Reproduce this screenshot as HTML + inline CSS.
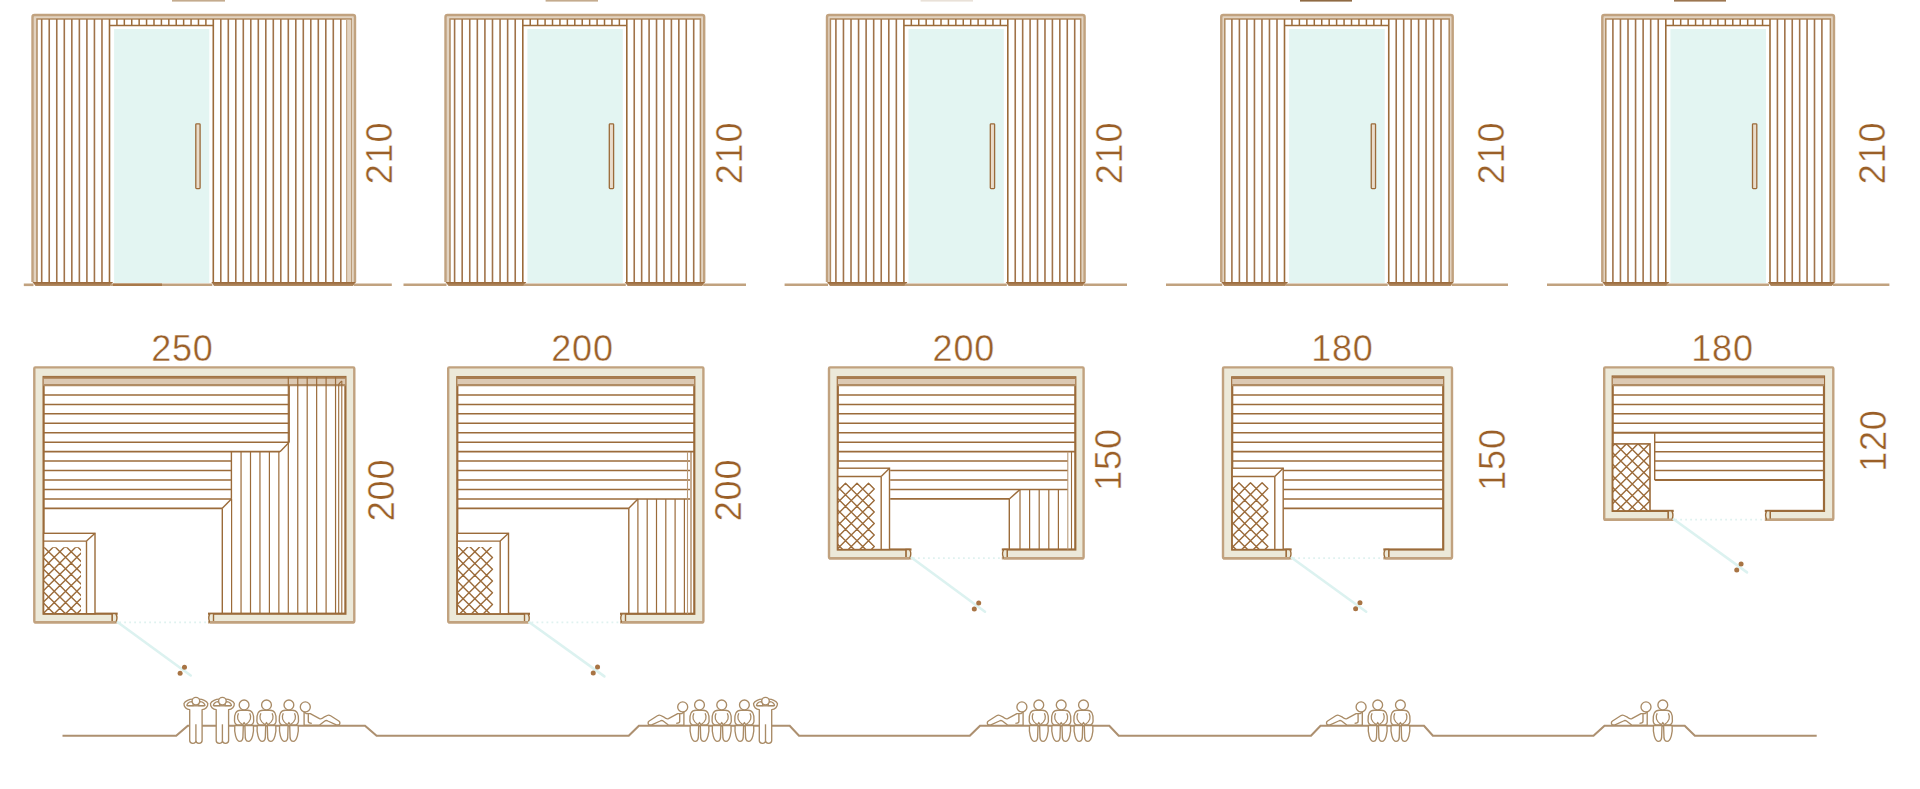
<!DOCTYPE html>
<html><head><meta charset="utf-8"><style>
html,body{margin:0;padding:0;background:#fff;width:1920px;height:789px;overflow:hidden}
svg{display:block}
.t{font-family:"Liberation Sans",sans-serif;font-size:36px;fill:#9a5f28;letter-spacing:0.8px;stroke:#fff;stroke-width:0.4px}
</style></head><body>
<svg width="1920" height="789" viewBox="0 0 1920 789">
<defs><linearGradient id="slab" x1="0" y1="0" x2="0" y2="1"><stop offset="0" stop-color="#9a6a3a"/><stop offset="0.35" stop-color="#a27448"/><stop offset="1" stop-color="#b48e66"/></linearGradient></defs>
<rect x="32.5" y="15.05" width="322.5" height="266.95" fill="#e2d3c1" stroke="none" stroke-width="0" />
<rect x="37" y="19.1" width="314.2" height="262.9" fill="#ffffff" stroke="none" stroke-width="0" />
<path d="M32.5,282 V17.05 Q32.5,15.05 34.5,15.05 H353 Q355,15.05 355,17.05 V282" stroke="#c1a27f" stroke-width="2.4" fill="none" />
<path d="M37,282 V19.1 H351.2 V282" stroke="#b08a60" stroke-width="1.5" fill="none" />
<line x1="41.7" y1="19.1" x2="41.7" y2="282" stroke="#a0734a" stroke-width="1.6" />
<line x1="49.23" y1="19.1" x2="49.23" y2="282" stroke="#a0734a" stroke-width="1.6" />
<line x1="56.77" y1="19.1" x2="56.77" y2="282" stroke="#a0734a" stroke-width="1.6" />
<line x1="64.3" y1="19.1" x2="64.3" y2="282" stroke="#a0734a" stroke-width="1.6" />
<line x1="71.83" y1="19.1" x2="71.83" y2="282" stroke="#a0734a" stroke-width="1.6" />
<line x1="79.37" y1="19.1" x2="79.37" y2="282" stroke="#a0734a" stroke-width="1.6" />
<line x1="86.9" y1="19.1" x2="86.9" y2="282" stroke="#a0734a" stroke-width="1.6" />
<line x1="94.43" y1="19.1" x2="94.43" y2="282" stroke="#a0734a" stroke-width="1.6" />
<line x1="101.97" y1="19.1" x2="101.97" y2="282" stroke="#a0734a" stroke-width="1.6" />
<line x1="220.8" y1="19.1" x2="220.8" y2="282" stroke="#a0734a" stroke-width="1.6" />
<line x1="228.3" y1="19.1" x2="228.3" y2="282" stroke="#a0734a" stroke-width="1.6" />
<line x1="235.8" y1="19.1" x2="235.8" y2="282" stroke="#a0734a" stroke-width="1.6" />
<line x1="243.3" y1="19.1" x2="243.3" y2="282" stroke="#a0734a" stroke-width="1.6" />
<line x1="250.8" y1="19.1" x2="250.8" y2="282" stroke="#a0734a" stroke-width="1.6" />
<line x1="258.3" y1="19.1" x2="258.3" y2="282" stroke="#a0734a" stroke-width="1.6" />
<line x1="265.8" y1="19.1" x2="265.8" y2="282" stroke="#a0734a" stroke-width="1.6" />
<line x1="273.3" y1="19.1" x2="273.3" y2="282" stroke="#a0734a" stroke-width="1.6" />
<line x1="280.8" y1="19.1" x2="280.8" y2="282" stroke="#a0734a" stroke-width="1.6" />
<line x1="288.3" y1="19.1" x2="288.3" y2="282" stroke="#a0734a" stroke-width="1.6" />
<line x1="295.8" y1="19.1" x2="295.8" y2="282" stroke="#a0734a" stroke-width="1.6" />
<line x1="303.3" y1="19.1" x2="303.3" y2="282" stroke="#a0734a" stroke-width="1.6" />
<line x1="310.8" y1="19.1" x2="310.8" y2="282" stroke="#a0734a" stroke-width="1.6" />
<line x1="318.3" y1="19.1" x2="318.3" y2="282" stroke="#a0734a" stroke-width="1.6" />
<line x1="325.8" y1="19.1" x2="325.8" y2="282" stroke="#a0734a" stroke-width="1.6" />
<line x1="333.3" y1="19.1" x2="333.3" y2="282" stroke="#a0734a" stroke-width="1.6" />
<line x1="340.8" y1="19.1" x2="340.8" y2="282" stroke="#a0734a" stroke-width="1.6" />
<rect x="109.5" y="25.5" width="103.8" height="257.5" fill="#ffffff" stroke="none" stroke-width="0" />
<line x1="116.91" y1="19.1" x2="116.91" y2="25.5" stroke="#9b6b3a" stroke-width="1.5" />
<line x1="124.33" y1="19.1" x2="124.33" y2="25.5" stroke="#9b6b3a" stroke-width="1.5" />
<line x1="131.74" y1="19.1" x2="131.74" y2="25.5" stroke="#9b6b3a" stroke-width="1.5" />
<line x1="139.16" y1="19.1" x2="139.16" y2="25.5" stroke="#9b6b3a" stroke-width="1.5" />
<line x1="146.57" y1="19.1" x2="146.57" y2="25.5" stroke="#9b6b3a" stroke-width="1.5" />
<line x1="153.99" y1="19.1" x2="153.99" y2="25.5" stroke="#9b6b3a" stroke-width="1.5" />
<line x1="161.4" y1="19.1" x2="161.4" y2="25.5" stroke="#9b6b3a" stroke-width="1.5" />
<line x1="168.81" y1="19.1" x2="168.81" y2="25.5" stroke="#9b6b3a" stroke-width="1.5" />
<line x1="176.23" y1="19.1" x2="176.23" y2="25.5" stroke="#9b6b3a" stroke-width="1.5" />
<line x1="183.64" y1="19.1" x2="183.64" y2="25.5" stroke="#9b6b3a" stroke-width="1.5" />
<line x1="191.06" y1="19.1" x2="191.06" y2="25.5" stroke="#9b6b3a" stroke-width="1.5" />
<line x1="198.47" y1="19.1" x2="198.47" y2="25.5" stroke="#9b6b3a" stroke-width="1.5" />
<line x1="205.89" y1="19.1" x2="205.89" y2="25.5" stroke="#9b6b3a" stroke-width="1.5" />
<line x1="109.5" y1="19.1" x2="109.5" y2="283" stroke="#9b6b3a" stroke-width="1.6" />
<line x1="213.3" y1="19.1" x2="213.3" y2="283" stroke="#9b6b3a" stroke-width="1.6" />
<line x1="109.5" y1="25.5" x2="213.3" y2="25.5" stroke="#9b6b3a" stroke-width="1.6" />
<rect x="114.1" y="29" width="95.2" height="254" fill="#e3f5f2" stroke="none" stroke-width="0" />
<rect x="195.8" y="123.8" width="4.3" height="64.8" fill="#e9dccb" stroke="#9b6b3a" stroke-width="1.3" rx="0.8"/>
<polygon points="32.5,282 113,282 110.3,286 35.5,286" fill="url(#slab)"/>
<polygon points="211.3,282 356,282 353,286 214.1,286" fill="url(#slab)"/>
<line x1="23.8" y1="284.8" x2="33.5" y2="284.8" stroke="#c1a27f" stroke-width="2.6" />
<line x1="110.5" y1="284.8" x2="212.3" y2="284.8" stroke="#c1a27f" stroke-width="2.6" />
<line x1="354" y1="284.8" x2="391.8" y2="284.8" stroke="#c1a27f" stroke-width="2.6" />
<rect x="172" y="-2" width="53" height="3.6" fill="#c4ab8e" stroke="none" stroke-width="0" />
<text transform="translate(392.3,153) rotate(-90)" class="t" text-anchor="middle">210</text>
<rect x="346.2" y="19.9" width="5" height="262.1" fill="#e2d3c1" stroke="none" stroke-width="0" />
<line x1="346.6" y1="19.1" x2="346.6" y2="282" stroke="#c6a988" stroke-width="1.2" />
<rect x="445.5" y="15.05" width="258.7" height="266.95" fill="#e2d3c1" stroke="none" stroke-width="0" />
<rect x="450" y="19.1" width="250.4" height="262.9" fill="#ffffff" stroke="none" stroke-width="0" />
<path d="M445.5,282 V17.05 Q445.5,15.05 447.5,15.05 H702.2 Q704.2,15.05 704.2,17.05 V282" stroke="#c1a27f" stroke-width="2.4" fill="none" />
<path d="M450,282 V19.1 H700.4 V282" stroke="#b08a60" stroke-width="1.5" fill="none" />
<line x1="454.6" y1="19.1" x2="454.6" y2="282" stroke="#a0734a" stroke-width="1.6" />
<line x1="462.18" y1="19.1" x2="462.18" y2="282" stroke="#a0734a" stroke-width="1.6" />
<line x1="469.76" y1="19.1" x2="469.76" y2="282" stroke="#a0734a" stroke-width="1.6" />
<line x1="477.33" y1="19.1" x2="477.33" y2="282" stroke="#a0734a" stroke-width="1.6" />
<line x1="484.91" y1="19.1" x2="484.91" y2="282" stroke="#a0734a" stroke-width="1.6" />
<line x1="492.49" y1="19.1" x2="492.49" y2="282" stroke="#a0734a" stroke-width="1.6" />
<line x1="500.07" y1="19.1" x2="500.07" y2="282" stroke="#a0734a" stroke-width="1.6" />
<line x1="507.64" y1="19.1" x2="507.64" y2="282" stroke="#a0734a" stroke-width="1.6" />
<line x1="515.22" y1="19.1" x2="515.22" y2="282" stroke="#a0734a" stroke-width="1.6" />
<line x1="634.23" y1="19.1" x2="634.23" y2="282" stroke="#a0734a" stroke-width="1.6" />
<line x1="641.67" y1="19.1" x2="641.67" y2="282" stroke="#a0734a" stroke-width="1.6" />
<line x1="649.1" y1="19.1" x2="649.1" y2="282" stroke="#a0734a" stroke-width="1.6" />
<line x1="656.53" y1="19.1" x2="656.53" y2="282" stroke="#a0734a" stroke-width="1.6" />
<line x1="663.97" y1="19.1" x2="663.97" y2="282" stroke="#a0734a" stroke-width="1.6" />
<line x1="671.4" y1="19.1" x2="671.4" y2="282" stroke="#a0734a" stroke-width="1.6" />
<line x1="678.83" y1="19.1" x2="678.83" y2="282" stroke="#a0734a" stroke-width="1.6" />
<line x1="686.27" y1="19.1" x2="686.27" y2="282" stroke="#a0734a" stroke-width="1.6" />
<line x1="693.7" y1="19.1" x2="693.7" y2="282" stroke="#a0734a" stroke-width="1.6" />
<rect x="522.8" y="25.5" width="104" height="257.5" fill="#ffffff" stroke="none" stroke-width="0" />
<line x1="530.23" y1="19.1" x2="530.23" y2="25.5" stroke="#9b6b3a" stroke-width="1.5" />
<line x1="537.66" y1="19.1" x2="537.66" y2="25.5" stroke="#9b6b3a" stroke-width="1.5" />
<line x1="545.09" y1="19.1" x2="545.09" y2="25.5" stroke="#9b6b3a" stroke-width="1.5" />
<line x1="552.51" y1="19.1" x2="552.51" y2="25.5" stroke="#9b6b3a" stroke-width="1.5" />
<line x1="559.94" y1="19.1" x2="559.94" y2="25.5" stroke="#9b6b3a" stroke-width="1.5" />
<line x1="567.37" y1="19.1" x2="567.37" y2="25.5" stroke="#9b6b3a" stroke-width="1.5" />
<line x1="574.8" y1="19.1" x2="574.8" y2="25.5" stroke="#9b6b3a" stroke-width="1.5" />
<line x1="582.23" y1="19.1" x2="582.23" y2="25.5" stroke="#9b6b3a" stroke-width="1.5" />
<line x1="589.66" y1="19.1" x2="589.66" y2="25.5" stroke="#9b6b3a" stroke-width="1.5" />
<line x1="597.09" y1="19.1" x2="597.09" y2="25.5" stroke="#9b6b3a" stroke-width="1.5" />
<line x1="604.51" y1="19.1" x2="604.51" y2="25.5" stroke="#9b6b3a" stroke-width="1.5" />
<line x1="611.94" y1="19.1" x2="611.94" y2="25.5" stroke="#9b6b3a" stroke-width="1.5" />
<line x1="619.37" y1="19.1" x2="619.37" y2="25.5" stroke="#9b6b3a" stroke-width="1.5" />
<line x1="522.8" y1="19.1" x2="522.8" y2="283" stroke="#9b6b3a" stroke-width="1.6" />
<line x1="626.8" y1="19.1" x2="626.8" y2="283" stroke="#9b6b3a" stroke-width="1.6" />
<line x1="522.8" y1="25.5" x2="626.8" y2="25.5" stroke="#9b6b3a" stroke-width="1.6" />
<rect x="527.4" y="29" width="95.4" height="254" fill="#e3f5f2" stroke="none" stroke-width="0" />
<rect x="609.3" y="123.8" width="4.3" height="64.8" fill="#e9dccb" stroke="#9b6b3a" stroke-width="1.3" rx="0.8"/>
<polygon points="445.5,282 526.3,282 523.6,286 448.5,286" fill="url(#slab)"/>
<polygon points="624.8,282 705.2,282 702.2,286 627.6,286" fill="url(#slab)"/>
<line x1="403.5" y1="284.8" x2="446.5" y2="284.8" stroke="#c1a27f" stroke-width="2.6" />
<line x1="523.8" y1="284.8" x2="625.8" y2="284.8" stroke="#c1a27f" stroke-width="2.6" />
<line x1="703.2" y1="284.8" x2="746" y2="284.8" stroke="#c1a27f" stroke-width="2.6" />
<rect x="545.6" y="-2" width="52.4" height="3.6" fill="#c4ab8e" stroke="none" stroke-width="0" />
<text transform="translate(741.8,153) rotate(-90)" class="t" text-anchor="middle">210</text>
<rect x="827" y="15.05" width="257.6" height="266.95" fill="#e2d3c1" stroke="none" stroke-width="0" />
<rect x="830.4" y="19.1" width="250.3" height="262.9" fill="#ffffff" stroke="none" stroke-width="0" />
<path d="M827,282 V17.05 Q827,15.05 829,15.05 H1082.6 Q1084.6,15.05 1084.6,17.05 V282" stroke="#c1a27f" stroke-width="2.4" fill="none" />
<path d="M830.4,282 V19.1 H1080.7 V282" stroke="#b08a60" stroke-width="1.5" fill="none" />
<line x1="835.9" y1="19.1" x2="835.9" y2="282" stroke="#a0734a" stroke-width="1.6" />
<line x1="843.46" y1="19.1" x2="843.46" y2="282" stroke="#a0734a" stroke-width="1.6" />
<line x1="851.01" y1="19.1" x2="851.01" y2="282" stroke="#a0734a" stroke-width="1.6" />
<line x1="858.57" y1="19.1" x2="858.57" y2="282" stroke="#a0734a" stroke-width="1.6" />
<line x1="866.12" y1="19.1" x2="866.12" y2="282" stroke="#a0734a" stroke-width="1.6" />
<line x1="873.68" y1="19.1" x2="873.68" y2="282" stroke="#a0734a" stroke-width="1.6" />
<line x1="881.23" y1="19.1" x2="881.23" y2="282" stroke="#a0734a" stroke-width="1.6" />
<line x1="888.79" y1="19.1" x2="888.79" y2="282" stroke="#a0734a" stroke-width="1.6" />
<line x1="896.34" y1="19.1" x2="896.34" y2="282" stroke="#a0734a" stroke-width="1.6" />
<line x1="1015.23" y1="19.1" x2="1015.23" y2="282" stroke="#a0734a" stroke-width="1.6" />
<line x1="1022.67" y1="19.1" x2="1022.67" y2="282" stroke="#a0734a" stroke-width="1.6" />
<line x1="1030.1" y1="19.1" x2="1030.1" y2="282" stroke="#a0734a" stroke-width="1.6" />
<line x1="1037.53" y1="19.1" x2="1037.53" y2="282" stroke="#a0734a" stroke-width="1.6" />
<line x1="1044.97" y1="19.1" x2="1044.97" y2="282" stroke="#a0734a" stroke-width="1.6" />
<line x1="1052.4" y1="19.1" x2="1052.4" y2="282" stroke="#a0734a" stroke-width="1.6" />
<line x1="1059.83" y1="19.1" x2="1059.83" y2="282" stroke="#a0734a" stroke-width="1.6" />
<line x1="1067.27" y1="19.1" x2="1067.27" y2="282" stroke="#a0734a" stroke-width="1.6" />
<line x1="1074.7" y1="19.1" x2="1074.7" y2="282" stroke="#a0734a" stroke-width="1.6" />
<rect x="903.9" y="25.5" width="103.9" height="257.5" fill="#ffffff" stroke="none" stroke-width="0" />
<line x1="911.32" y1="19.1" x2="911.32" y2="25.5" stroke="#9b6b3a" stroke-width="1.5" />
<line x1="918.74" y1="19.1" x2="918.74" y2="25.5" stroke="#9b6b3a" stroke-width="1.5" />
<line x1="926.16" y1="19.1" x2="926.16" y2="25.5" stroke="#9b6b3a" stroke-width="1.5" />
<line x1="933.59" y1="19.1" x2="933.59" y2="25.5" stroke="#9b6b3a" stroke-width="1.5" />
<line x1="941.01" y1="19.1" x2="941.01" y2="25.5" stroke="#9b6b3a" stroke-width="1.5" />
<line x1="948.43" y1="19.1" x2="948.43" y2="25.5" stroke="#9b6b3a" stroke-width="1.5" />
<line x1="955.85" y1="19.1" x2="955.85" y2="25.5" stroke="#9b6b3a" stroke-width="1.5" />
<line x1="963.27" y1="19.1" x2="963.27" y2="25.5" stroke="#9b6b3a" stroke-width="1.5" />
<line x1="970.69" y1="19.1" x2="970.69" y2="25.5" stroke="#9b6b3a" stroke-width="1.5" />
<line x1="978.11" y1="19.1" x2="978.11" y2="25.5" stroke="#9b6b3a" stroke-width="1.5" />
<line x1="985.54" y1="19.1" x2="985.54" y2="25.5" stroke="#9b6b3a" stroke-width="1.5" />
<line x1="992.96" y1="19.1" x2="992.96" y2="25.5" stroke="#9b6b3a" stroke-width="1.5" />
<line x1="1000.38" y1="19.1" x2="1000.38" y2="25.5" stroke="#9b6b3a" stroke-width="1.5" />
<line x1="903.9" y1="19.1" x2="903.9" y2="283" stroke="#9b6b3a" stroke-width="1.6" />
<line x1="1007.8" y1="19.1" x2="1007.8" y2="283" stroke="#9b6b3a" stroke-width="1.6" />
<line x1="903.9" y1="25.5" x2="1007.8" y2="25.5" stroke="#9b6b3a" stroke-width="1.6" />
<rect x="908.5" y="29" width="95.3" height="254" fill="#e3f5f2" stroke="none" stroke-width="0" />
<rect x="990.3" y="123.8" width="4.3" height="64.8" fill="#e9dccb" stroke="#9b6b3a" stroke-width="1.3" rx="0.8"/>
<polygon points="827,282 907.4,282 904.7,286 830,286" fill="url(#slab)"/>
<polygon points="1005.8,282 1085.6,282 1082.6,286 1008.6,286" fill="url(#slab)"/>
<line x1="784.6" y1="284.8" x2="828" y2="284.8" stroke="#c1a27f" stroke-width="2.6" />
<line x1="904.9" y1="284.8" x2="1006.8" y2="284.8" stroke="#c1a27f" stroke-width="2.6" />
<line x1="1083.6" y1="284.8" x2="1127" y2="284.8" stroke="#c1a27f" stroke-width="2.6" />
<rect x="920.6" y="-2" width="52.4" height="3.6" fill="#e9e1d8" stroke="none" stroke-width="0" />
<text transform="translate(1122.4,153) rotate(-90)" class="t" text-anchor="middle">210</text>
<rect x="1221.25" y="15.05" width="231.45" height="266.95" fill="#e2d3c1" stroke="none" stroke-width="0" />
<rect x="1224.8" y="19.1" width="224.4" height="262.9" fill="#ffffff" stroke="none" stroke-width="0" />
<path d="M1221.25,282 V17.05 Q1221.25,15.05 1223.25,15.05 H1450.7 Q1452.7,15.05 1452.7,17.05 V282" stroke="#c1a27f" stroke-width="2.4" fill="none" />
<path d="M1224.8,282 V19.1 H1449.2 V282" stroke="#b08a60" stroke-width="1.5" fill="none" />
<line x1="1231.9" y1="19.1" x2="1231.9" y2="282" stroke="#a0734a" stroke-width="1.6" />
<line x1="1239.41" y1="19.1" x2="1239.41" y2="282" stroke="#a0734a" stroke-width="1.6" />
<line x1="1246.93" y1="19.1" x2="1246.93" y2="282" stroke="#a0734a" stroke-width="1.6" />
<line x1="1254.44" y1="19.1" x2="1254.44" y2="282" stroke="#a0734a" stroke-width="1.6" />
<line x1="1261.96" y1="19.1" x2="1261.96" y2="282" stroke="#a0734a" stroke-width="1.6" />
<line x1="1269.47" y1="19.1" x2="1269.47" y2="282" stroke="#a0734a" stroke-width="1.6" />
<line x1="1276.99" y1="19.1" x2="1276.99" y2="282" stroke="#a0734a" stroke-width="1.6" />
<line x1="1396.21" y1="19.1" x2="1396.21" y2="282" stroke="#a0734a" stroke-width="1.6" />
<line x1="1403.68" y1="19.1" x2="1403.68" y2="282" stroke="#a0734a" stroke-width="1.6" />
<line x1="1411.14" y1="19.1" x2="1411.14" y2="282" stroke="#a0734a" stroke-width="1.6" />
<line x1="1418.61" y1="19.1" x2="1418.61" y2="282" stroke="#a0734a" stroke-width="1.6" />
<line x1="1426.07" y1="19.1" x2="1426.07" y2="282" stroke="#a0734a" stroke-width="1.6" />
<line x1="1433.54" y1="19.1" x2="1433.54" y2="282" stroke="#a0734a" stroke-width="1.6" />
<line x1="1441" y1="19.1" x2="1441" y2="282" stroke="#a0734a" stroke-width="1.6" />
<rect x="1284.5" y="25.5" width="104.25" height="257.5" fill="#ffffff" stroke="none" stroke-width="0" />
<line x1="1291.95" y1="19.1" x2="1291.95" y2="25.5" stroke="#9b6b3a" stroke-width="1.5" />
<line x1="1299.39" y1="19.1" x2="1299.39" y2="25.5" stroke="#9b6b3a" stroke-width="1.5" />
<line x1="1306.84" y1="19.1" x2="1306.84" y2="25.5" stroke="#9b6b3a" stroke-width="1.5" />
<line x1="1314.29" y1="19.1" x2="1314.29" y2="25.5" stroke="#9b6b3a" stroke-width="1.5" />
<line x1="1321.73" y1="19.1" x2="1321.73" y2="25.5" stroke="#9b6b3a" stroke-width="1.5" />
<line x1="1329.18" y1="19.1" x2="1329.18" y2="25.5" stroke="#9b6b3a" stroke-width="1.5" />
<line x1="1336.62" y1="19.1" x2="1336.62" y2="25.5" stroke="#9b6b3a" stroke-width="1.5" />
<line x1="1344.07" y1="19.1" x2="1344.07" y2="25.5" stroke="#9b6b3a" stroke-width="1.5" />
<line x1="1351.52" y1="19.1" x2="1351.52" y2="25.5" stroke="#9b6b3a" stroke-width="1.5" />
<line x1="1358.96" y1="19.1" x2="1358.96" y2="25.5" stroke="#9b6b3a" stroke-width="1.5" />
<line x1="1366.41" y1="19.1" x2="1366.41" y2="25.5" stroke="#9b6b3a" stroke-width="1.5" />
<line x1="1373.86" y1="19.1" x2="1373.86" y2="25.5" stroke="#9b6b3a" stroke-width="1.5" />
<line x1="1381.3" y1="19.1" x2="1381.3" y2="25.5" stroke="#9b6b3a" stroke-width="1.5" />
<line x1="1284.5" y1="19.1" x2="1284.5" y2="283" stroke="#9b6b3a" stroke-width="1.6" />
<line x1="1388.75" y1="19.1" x2="1388.75" y2="283" stroke="#9b6b3a" stroke-width="1.6" />
<line x1="1284.5" y1="25.5" x2="1388.75" y2="25.5" stroke="#9b6b3a" stroke-width="1.6" />
<rect x="1289.1" y="29" width="95.65" height="254" fill="#e3f5f2" stroke="none" stroke-width="0" />
<rect x="1371.25" y="123.8" width="4.3" height="64.8" fill="#e9dccb" stroke="#9b6b3a" stroke-width="1.3" rx="0.8"/>
<polygon points="1221.25,282 1288,282 1285.3,286 1224.25,286" fill="url(#slab)"/>
<polygon points="1386.75,282 1453.7,282 1450.7,286 1389.55,286" fill="url(#slab)"/>
<line x1="1166" y1="284.8" x2="1222.25" y2="284.8" stroke="#c1a27f" stroke-width="2.6" />
<line x1="1285.5" y1="284.8" x2="1387.75" y2="284.8" stroke="#c1a27f" stroke-width="2.6" />
<line x1="1451.7" y1="284.8" x2="1508" y2="284.8" stroke="#c1a27f" stroke-width="2.6" />
<rect x="1300" y="-2" width="52" height="3.6" fill="#8f6a43" stroke="none" stroke-width="0" />
<text transform="translate(1503.5,153) rotate(-90)" class="t" text-anchor="middle">210</text>
<rect x="1602.3" y="15.05" width="231.7" height="266.95" fill="#e2d3c1" stroke="none" stroke-width="0" />
<rect x="1605.8" y="19.1" width="224.6" height="262.9" fill="#ffffff" stroke="none" stroke-width="0" />
<path d="M1602.3,282 V17.05 Q1602.3,15.05 1604.3,15.05 H1832 Q1834,15.05 1834,17.05 V282" stroke="#c1a27f" stroke-width="2.4" fill="none" />
<path d="M1605.8,282 V19.1 H1830.4 V282" stroke="#b08a60" stroke-width="1.5" fill="none" />
<line x1="1612.9" y1="19.1" x2="1612.9" y2="282" stroke="#a0734a" stroke-width="1.6" />
<line x1="1620.46" y1="19.1" x2="1620.46" y2="282" stroke="#a0734a" stroke-width="1.6" />
<line x1="1628.01" y1="19.1" x2="1628.01" y2="282" stroke="#a0734a" stroke-width="1.6" />
<line x1="1635.57" y1="19.1" x2="1635.57" y2="282" stroke="#a0734a" stroke-width="1.6" />
<line x1="1643.13" y1="19.1" x2="1643.13" y2="282" stroke="#a0734a" stroke-width="1.6" />
<line x1="1650.69" y1="19.1" x2="1650.69" y2="282" stroke="#a0734a" stroke-width="1.6" />
<line x1="1658.24" y1="19.1" x2="1658.24" y2="282" stroke="#a0734a" stroke-width="1.6" />
<line x1="1777.41" y1="19.1" x2="1777.41" y2="282" stroke="#a0734a" stroke-width="1.6" />
<line x1="1784.83" y1="19.1" x2="1784.83" y2="282" stroke="#a0734a" stroke-width="1.6" />
<line x1="1792.24" y1="19.1" x2="1792.24" y2="282" stroke="#a0734a" stroke-width="1.6" />
<line x1="1799.66" y1="19.1" x2="1799.66" y2="282" stroke="#a0734a" stroke-width="1.6" />
<line x1="1807.07" y1="19.1" x2="1807.07" y2="282" stroke="#a0734a" stroke-width="1.6" />
<line x1="1814.49" y1="19.1" x2="1814.49" y2="282" stroke="#a0734a" stroke-width="1.6" />
<line x1="1821.9" y1="19.1" x2="1821.9" y2="282" stroke="#a0734a" stroke-width="1.6" />
<rect x="1665.8" y="25.5" width="104.2" height="257.5" fill="#ffffff" stroke="none" stroke-width="0" />
<line x1="1673.24" y1="19.1" x2="1673.24" y2="25.5" stroke="#9b6b3a" stroke-width="1.5" />
<line x1="1680.69" y1="19.1" x2="1680.69" y2="25.5" stroke="#9b6b3a" stroke-width="1.5" />
<line x1="1688.13" y1="19.1" x2="1688.13" y2="25.5" stroke="#9b6b3a" stroke-width="1.5" />
<line x1="1695.57" y1="19.1" x2="1695.57" y2="25.5" stroke="#9b6b3a" stroke-width="1.5" />
<line x1="1703.01" y1="19.1" x2="1703.01" y2="25.5" stroke="#9b6b3a" stroke-width="1.5" />
<line x1="1710.46" y1="19.1" x2="1710.46" y2="25.5" stroke="#9b6b3a" stroke-width="1.5" />
<line x1="1717.9" y1="19.1" x2="1717.9" y2="25.5" stroke="#9b6b3a" stroke-width="1.5" />
<line x1="1725.34" y1="19.1" x2="1725.34" y2="25.5" stroke="#9b6b3a" stroke-width="1.5" />
<line x1="1732.79" y1="19.1" x2="1732.79" y2="25.5" stroke="#9b6b3a" stroke-width="1.5" />
<line x1="1740.23" y1="19.1" x2="1740.23" y2="25.5" stroke="#9b6b3a" stroke-width="1.5" />
<line x1="1747.67" y1="19.1" x2="1747.67" y2="25.5" stroke="#9b6b3a" stroke-width="1.5" />
<line x1="1755.11" y1="19.1" x2="1755.11" y2="25.5" stroke="#9b6b3a" stroke-width="1.5" />
<line x1="1762.56" y1="19.1" x2="1762.56" y2="25.5" stroke="#9b6b3a" stroke-width="1.5" />
<line x1="1665.8" y1="19.1" x2="1665.8" y2="283" stroke="#9b6b3a" stroke-width="1.6" />
<line x1="1770" y1="19.1" x2="1770" y2="283" stroke="#9b6b3a" stroke-width="1.6" />
<line x1="1665.8" y1="25.5" x2="1770" y2="25.5" stroke="#9b6b3a" stroke-width="1.6" />
<rect x="1670.4" y="29" width="95.6" height="254" fill="#e3f5f2" stroke="none" stroke-width="0" />
<rect x="1752.5" y="123.8" width="4.3" height="64.8" fill="#e9dccb" stroke="#9b6b3a" stroke-width="1.3" rx="0.8"/>
<polygon points="1602.3,282 1669.3,282 1666.6,286 1605.3,286" fill="url(#slab)"/>
<polygon points="1768,282 1835,282 1832,286 1770.8,286" fill="url(#slab)"/>
<line x1="1547" y1="284.8" x2="1603.3" y2="284.8" stroke="#c1a27f" stroke-width="2.6" />
<line x1="1666.8" y1="284.8" x2="1769" y2="284.8" stroke="#c1a27f" stroke-width="2.6" />
<line x1="1833" y1="284.8" x2="1889.4" y2="284.8" stroke="#c1a27f" stroke-width="2.6" />
<rect x="1674" y="-2" width="52" height="3.6" fill="#9c7650" stroke="none" stroke-width="0" />
<text transform="translate(1884.7,153) rotate(-90)" class="t" text-anchor="middle">210</text>
<line x1="113" y1="284.8" x2="162" y2="284.8" stroke="#a8794a" stroke-width="2.6" />
<rect x="34.3" y="367.4" width="320" height="254.9" fill="#ece9d9" stroke="#c1a27f" stroke-width="2.4" rx="1"/>
<rect x="43.6" y="377" width="301.8" height="236.7" fill="#ffffff" stroke="#9b6b3a" stroke-width="2.2" />
<rect x="117.7" y="611.7" width="90.3" height="13.1" fill="#ffffff" stroke="none" stroke-width="0" />
<path d="M112.2,613.7 H115.7 Q118.2,618 115.7,622.3 H112.2 Z" stroke="#9b6b3a" stroke-width="1.3" fill="#ece9d9" />
<path d="M112.2,613.7 V622.3" stroke="#9b6b3a" stroke-width="1.1" fill="none" />
<path d="M213.5,613.7 H210 Q207.5,618 210,622.3 H213.5 Z" stroke="#9b6b3a" stroke-width="1.3" fill="#ece9d9" />
<path d="M213.5,613.7 V622.3" stroke="#9b6b3a" stroke-width="1.1" fill="none" />
<line x1="34.3" y1="622.3" x2="115.7" y2="622.3" stroke="#c1a27f" stroke-width="2.4" />
<line x1="210" y1="622.3" x2="354.3" y2="622.3" stroke="#c1a27f" stroke-width="2.4" />
<line x1="119.2" y1="622.3" x2="206.5" y2="622.3" stroke="#dff2f0" stroke-width="1.8" stroke-dasharray="1.8 3.2"/>
<rect x="43.6" y="377.5" width="301.8" height="8" fill="#dcc9b3" stroke="none" stroke-width="0" />
<line x1="43.6" y1="377.6" x2="345.4" y2="377.6" stroke="#a87c50" stroke-width="2.4" />
<line x1="43.6" y1="385.1" x2="345.4" y2="385.1" stroke="#b08c64" stroke-width="2.2" />
<line x1="43.6" y1="394.95" x2="289.2" y2="394.95" stroke="#9b6b3a" stroke-width="1.5" />
<line x1="43.6" y1="404.4" x2="289.2" y2="404.4" stroke="#9b6b3a" stroke-width="1.5" />
<line x1="43.6" y1="413.85" x2="289.2" y2="413.85" stroke="#9b6b3a" stroke-width="1.5" />
<line x1="43.6" y1="423.3" x2="289.2" y2="423.3" stroke="#9b6b3a" stroke-width="1.5" />
<line x1="43.6" y1="432.75" x2="289.2" y2="432.75" stroke="#9b6b3a" stroke-width="1.5" />
<line x1="43.6" y1="442.2" x2="289.2" y2="442.2" stroke="#9b6b3a" stroke-width="1.5" />
<line x1="43.6" y1="451.65" x2="280" y2="451.65" stroke="#9b6b3a" stroke-width="1.8" />
<line x1="43.6" y1="461.1" x2="231.4" y2="461.1" stroke="#9b6b3a" stroke-width="1.5" />
<line x1="43.6" y1="470.55" x2="231.4" y2="470.55" stroke="#9b6b3a" stroke-width="1.5" />
<line x1="43.6" y1="480" x2="231.4" y2="480" stroke="#9b6b3a" stroke-width="1.5" />
<line x1="43.6" y1="489.45" x2="231.4" y2="489.45" stroke="#9b6b3a" stroke-width="1.5" />
<line x1="43.6" y1="498.9" x2="231.4" y2="498.9" stroke="#9b6b3a" stroke-width="1.5" />
<line x1="43.6" y1="508.35" x2="222.3" y2="508.35" stroke="#9b6b3a" stroke-width="1.8" />
<line x1="289.2" y1="385.5" x2="289.2" y2="442.2" stroke="#9b6b3a" stroke-width="1.4" />
<line x1="289.2" y1="442.2" x2="280" y2="451.65" stroke="#9b6b3a" stroke-width="1.4" />
<line x1="231.4" y1="451.65" x2="231.4" y2="498.9" stroke="#9b6b3a" stroke-width="1.4" />
<line x1="231.4" y1="498.9" x2="222.3" y2="508.35" stroke="#9b6b3a" stroke-width="1.4" />
<line x1="222.3" y1="508.35" x2="222.3" y2="613.7" stroke="#9b6b3a" stroke-width="1.4" />
<line x1="231.6" y1="498.9" x2="231.6" y2="613.7" stroke="#9b6b3a" stroke-width="1.2" />
<line x1="241.05" y1="451.65" x2="241.05" y2="613.7" stroke="#9b6b3a" stroke-width="1.2" />
<line x1="250.5" y1="451.65" x2="250.5" y2="613.7" stroke="#9b6b3a" stroke-width="1.2" />
<line x1="259.95" y1="451.65" x2="259.95" y2="613.7" stroke="#9b6b3a" stroke-width="1.2" />
<line x1="269.4" y1="451.65" x2="269.4" y2="613.7" stroke="#9b6b3a" stroke-width="1.2" />
<line x1="278.85" y1="451.65" x2="278.85" y2="613.7" stroke="#9b6b3a" stroke-width="1.2" />
<line x1="288.3" y1="377" x2="288.3" y2="613.7" stroke="#9b6b3a" stroke-width="1.2" />
<line x1="297.75" y1="377" x2="297.75" y2="613.7" stroke="#9b6b3a" stroke-width="1.2" />
<line x1="307.2" y1="377" x2="307.2" y2="613.7" stroke="#9b6b3a" stroke-width="1.2" />
<line x1="316.65" y1="377" x2="316.65" y2="613.7" stroke="#9b6b3a" stroke-width="1.2" />
<line x1="326.1" y1="377" x2="326.1" y2="613.7" stroke="#9b6b3a" stroke-width="1.2" />
<line x1="335.55" y1="377" x2="335.55" y2="613.7" stroke="#9b6b3a" stroke-width="1.2" />
<line x1="338.7" y1="384.2" x2="338.7" y2="613.7" stroke="#9b6b3a" stroke-width="1.1" />
<line x1="341.8" y1="381" x2="341.8" y2="613.7" stroke="#9b6b3a" stroke-width="1.1" />
<line x1="338.7" y1="384.2" x2="341.8" y2="381" stroke="#9b6b3a" stroke-width="1.1" />
<rect x="43.6" y="533.3" width="51.4" height="80.4" fill="#ffffff" stroke="#9b6b3a" stroke-width="1.4" />
<line x1="43.6" y1="541.1" x2="86.5" y2="541.1" stroke="#9b6b3a" stroke-width="1.4" />
<line x1="86.5" y1="541.1" x2="86.5" y2="613.7" stroke="#9b6b3a" stroke-width="1.4" />
<line x1="86.5" y1="541.1" x2="95" y2="533.3" stroke="#9b6b3a" stroke-width="1.4" />
<clipPath id="h1"><rect x="43.6" y="547.3" width="37.4" height="66.4"/></clipPath>
<path d="M42.95,546.05 L48.6,551.7 L42.95,557.35 L37.3,551.7 Z M42.95,557.35 L48.6,563 L42.95,568.65 L37.3,563 Z M42.95,568.65 L48.6,574.3 L42.95,579.95 L37.3,574.3 Z M42.95,579.95 L48.6,585.6 L42.95,591.25 L37.3,585.6 Z M42.95,591.25 L48.6,596.9 L42.95,602.55 L37.3,596.9 Z M42.95,602.55 L48.6,608.2 L42.95,613.85 L37.3,608.2 Z M48.6,540.4 L54.25,546.05 L48.6,551.7 L42.95,546.05 Z M48.6,551.7 L54.25,557.35 L48.6,563 L42.95,557.35 Z M48.6,563 L54.25,568.65 L48.6,574.3 L42.95,568.65 Z M48.6,574.3 L54.25,579.95 L48.6,585.6 L42.95,579.95 Z M48.6,585.6 L54.25,591.25 L48.6,596.9 L42.95,591.25 Z M48.6,596.9 L54.25,602.55 L48.6,608.2 L42.95,602.55 Z M48.6,608.2 L54.25,613.85 L48.6,619.5 L42.95,613.85 Z M54.25,546.05 L59.9,551.7 L54.25,557.35 L48.6,551.7 Z M54.25,557.35 L59.9,563 L54.25,568.65 L48.6,563 Z M54.25,568.65 L59.9,574.3 L54.25,579.95 L48.6,574.3 Z M54.25,579.95 L59.9,585.6 L54.25,591.25 L48.6,585.6 Z M54.25,591.25 L59.9,596.9 L54.25,602.55 L48.6,596.9 Z M54.25,602.55 L59.9,608.2 L54.25,613.85 L48.6,608.2 Z M59.9,540.4 L65.55,546.05 L59.9,551.7 L54.25,546.05 Z M59.9,551.7 L65.55,557.35 L59.9,563 L54.25,557.35 Z M59.9,563 L65.55,568.65 L59.9,574.3 L54.25,568.65 Z M59.9,574.3 L65.55,579.95 L59.9,585.6 L54.25,579.95 Z M59.9,585.6 L65.55,591.25 L59.9,596.9 L54.25,591.25 Z M59.9,596.9 L65.55,602.55 L59.9,608.2 L54.25,602.55 Z M59.9,608.2 L65.55,613.85 L59.9,619.5 L54.25,613.85 Z M65.55,546.05 L71.2,551.7 L65.55,557.35 L59.9,551.7 Z M65.55,557.35 L71.2,563 L65.55,568.65 L59.9,563 Z M65.55,568.65 L71.2,574.3 L65.55,579.95 L59.9,574.3 Z M65.55,579.95 L71.2,585.6 L65.55,591.25 L59.9,585.6 Z M65.55,591.25 L71.2,596.9 L65.55,602.55 L59.9,596.9 Z M65.55,602.55 L71.2,608.2 L65.55,613.85 L59.9,608.2 Z M71.2,540.4 L76.85,546.05 L71.2,551.7 L65.55,546.05 Z M71.2,551.7 L76.85,557.35 L71.2,563 L65.55,557.35 Z M71.2,563 L76.85,568.65 L71.2,574.3 L65.55,568.65 Z M71.2,574.3 L76.85,579.95 L71.2,585.6 L65.55,579.95 Z M71.2,585.6 L76.85,591.25 L71.2,596.9 L65.55,591.25 Z M71.2,596.9 L76.85,602.55 L71.2,608.2 L65.55,602.55 Z M71.2,608.2 L76.85,613.85 L71.2,619.5 L65.55,613.85 Z M76.85,546.05 L82.5,551.7 L76.85,557.35 L71.2,551.7 Z M76.85,557.35 L82.5,563 L76.85,568.65 L71.2,563 Z M76.85,568.65 L82.5,574.3 L76.85,579.95 L71.2,574.3 Z M76.85,579.95 L82.5,585.6 L76.85,591.25 L71.2,585.6 Z M76.85,591.25 L82.5,596.9 L76.85,602.55 L71.2,596.9 Z M76.85,602.55 L82.5,608.2 L76.85,613.85 L71.2,608.2 Z M82.5,540.4 L88.15,546.05 L82.5,551.7 L76.85,546.05 Z M82.5,551.7 L88.15,557.35 L82.5,563 L76.85,557.35 Z M82.5,563 L88.15,568.65 L82.5,574.3 L76.85,568.65 Z M82.5,574.3 L88.15,579.95 L82.5,585.6 L76.85,579.95 Z M82.5,585.6 L88.15,591.25 L82.5,596.9 L76.85,591.25 Z M82.5,596.9 L88.15,602.55 L82.5,608.2 L76.85,602.55 Z M82.5,608.2 L88.15,613.85 L82.5,619.5 L76.85,613.85 Z " stroke="#9b6b3a" stroke-width="1.4" fill="none" clip-path="url(#h1)" stroke-linejoin="round"/>
<line x1="117.7" y1="622.3" x2="190.7" y2="675.5" stroke="#dcf2f0" stroke-width="2.6" stroke-linecap="round"/>
<circle cx="184.48" cy="667.21" r="2.5" fill="#a87444"/>
<circle cx="180.12" cy="673.19" r="2.5" fill="#a87444"/>
<text x="182.4" y="361" class="t" text-anchor="middle">250</text>
<text transform="translate(393.8,490) rotate(-90)" class="t" text-anchor="middle">200</text>
<rect x="448.2" y="367.4" width="255.2" height="254.9" fill="#ece9d9" stroke="#c1a27f" stroke-width="2.4" rx="1"/>
<rect x="457.3" y="377.2" width="237" height="236.6" fill="#ffffff" stroke="#9b6b3a" stroke-width="2.2" />
<rect x="530" y="611.8" width="90" height="13" fill="#ffffff" stroke="none" stroke-width="0" />
<path d="M524.5,613.8 H528 Q530.5,618.05 528,622.3 H524.5 Z" stroke="#9b6b3a" stroke-width="1.3" fill="#ece9d9" />
<path d="M524.5,613.8 V622.3" stroke="#9b6b3a" stroke-width="1.1" fill="none" />
<path d="M625.5,613.8 H622 Q619.5,618.05 622,622.3 H625.5 Z" stroke="#9b6b3a" stroke-width="1.3" fill="#ece9d9" />
<path d="M625.5,613.8 V622.3" stroke="#9b6b3a" stroke-width="1.1" fill="none" />
<line x1="448.2" y1="622.3" x2="528" y2="622.3" stroke="#c1a27f" stroke-width="2.4" />
<line x1="622" y1="622.3" x2="703.4" y2="622.3" stroke="#c1a27f" stroke-width="2.4" />
<line x1="531.5" y1="622.3" x2="618.5" y2="622.3" stroke="#dff2f0" stroke-width="1.8" stroke-dasharray="1.8 3.2"/>
<rect x="457.3" y="377.7" width="237" height="8" fill="#dcc9b3" stroke="none" stroke-width="0" />
<line x1="457.3" y1="377.8" x2="694.3" y2="377.8" stroke="#a87c50" stroke-width="2.4" />
<line x1="457.3" y1="385.1" x2="694.3" y2="385.1" stroke="#b08c64" stroke-width="2.2" />
<line x1="457.3" y1="394.95" x2="694.3" y2="394.95" stroke="#9b6b3a" stroke-width="1.5" />
<line x1="457.3" y1="404.4" x2="694.3" y2="404.4" stroke="#9b6b3a" stroke-width="1.5" />
<line x1="457.3" y1="413.85" x2="694.3" y2="413.85" stroke="#9b6b3a" stroke-width="1.5" />
<line x1="457.3" y1="423.3" x2="694.3" y2="423.3" stroke="#9b6b3a" stroke-width="1.5" />
<line x1="457.3" y1="432.75" x2="694.3" y2="432.75" stroke="#9b6b3a" stroke-width="1.5" />
<line x1="457.3" y1="442.2" x2="694.3" y2="442.2" stroke="#9b6b3a" stroke-width="1.5" />
<line x1="457.3" y1="451.65" x2="694.3" y2="451.65" stroke="#9b6b3a" stroke-width="1.8" />
<line x1="457.3" y1="461.1" x2="690" y2="461.1" stroke="#9b6b3a" stroke-width="1.5" />
<line x1="457.3" y1="470.55" x2="690" y2="470.55" stroke="#9b6b3a" stroke-width="1.5" />
<line x1="457.3" y1="480" x2="690" y2="480" stroke="#9b6b3a" stroke-width="1.5" />
<line x1="457.3" y1="489.45" x2="690" y2="489.45" stroke="#9b6b3a" stroke-width="1.5" />
<line x1="457.3" y1="498.9" x2="690" y2="498.9" stroke="#9b6b3a" stroke-width="1.5" />
<line x1="457.3" y1="508.35" x2="628.8" y2="508.35" stroke="#9b6b3a" stroke-width="1.8" />
<line x1="628.8" y1="508.35" x2="637.9" y2="498.9" stroke="#9b6b3a" stroke-width="1.4" />
<line x1="628.8" y1="508.35" x2="628.8" y2="613.8" stroke="#9b6b3a" stroke-width="1.4" />
<line x1="637.9" y1="498.9" x2="637.9" y2="613.8" stroke="#9b6b3a" stroke-width="1.2" />
<line x1="647.2" y1="498.9" x2="647.2" y2="613.8" stroke="#9b6b3a" stroke-width="1.2" />
<line x1="656.5" y1="498.9" x2="656.5" y2="613.8" stroke="#9b6b3a" stroke-width="1.2" />
<line x1="665.8" y1="498.9" x2="665.8" y2="613.8" stroke="#9b6b3a" stroke-width="1.2" />
<line x1="675.1" y1="498.9" x2="675.1" y2="613.8" stroke="#9b6b3a" stroke-width="1.2" />
<line x1="684.4" y1="498.9" x2="684.4" y2="613.8" stroke="#9b6b3a" stroke-width="1.2" />
<line x1="687.5" y1="451.65" x2="687.5" y2="613.8" stroke="#b89a78" stroke-width="1.1" />
<line x1="691" y1="451.65" x2="691" y2="613.8" stroke="#9b6b3a" stroke-width="1.1" />
<rect x="457.3" y="533.3" width="51.2" height="80.5" fill="#ffffff" stroke="#9b6b3a" stroke-width="1.4" />
<line x1="457.3" y1="541.1" x2="500.2" y2="541.1" stroke="#9b6b3a" stroke-width="1.4" />
<line x1="500.2" y1="541.1" x2="500.2" y2="613.8" stroke="#9b6b3a" stroke-width="1.4" />
<line x1="500.2" y1="541.1" x2="508.5" y2="533.3" stroke="#9b6b3a" stroke-width="1.4" />
<clipPath id="h2"><rect x="457.3" y="547" width="42.7" height="66.8"/></clipPath>
<path d="M451.35,539.95 L457.23,545.83 L451.35,551.7 L445.48,545.83 Z M451.35,551.7 L457.23,557.58 L451.35,563.45 L445.48,557.58 Z M451.35,563.45 L457.23,569.33 L451.35,575.2 L445.48,569.33 Z M451.35,575.2 L457.23,581.08 L451.35,586.95 L445.48,581.08 Z M451.35,586.95 L457.23,592.83 L451.35,598.7 L445.48,592.83 Z M451.35,598.7 L457.23,604.58 L451.35,610.45 L445.48,604.58 Z M451.35,610.45 L457.23,616.33 L451.35,622.2 L445.48,616.33 Z M457.23,545.83 L463.1,551.7 L457.23,557.58 L451.35,551.7 Z M457.23,557.58 L463.1,563.45 L457.23,569.33 L451.35,563.45 Z M457.23,569.33 L463.1,575.2 L457.23,581.08 L451.35,575.2 Z M457.23,581.08 L463.1,586.95 L457.23,592.83 L451.35,586.95 Z M457.23,592.83 L463.1,598.7 L457.23,604.58 L451.35,598.7 Z M457.23,604.58 L463.1,610.45 L457.23,616.33 L451.35,610.45 Z M463.1,539.95 L468.98,545.83 L463.1,551.7 L457.23,545.83 Z M463.1,551.7 L468.98,557.58 L463.1,563.45 L457.23,557.58 Z M463.1,563.45 L468.98,569.33 L463.1,575.2 L457.23,569.33 Z M463.1,575.2 L468.98,581.08 L463.1,586.95 L457.23,581.08 Z M463.1,586.95 L468.98,592.83 L463.1,598.7 L457.23,592.83 Z M463.1,598.7 L468.98,604.58 L463.1,610.45 L457.23,604.58 Z M463.1,610.45 L468.98,616.33 L463.1,622.2 L457.23,616.33 Z M468.98,545.83 L474.85,551.7 L468.98,557.58 L463.1,551.7 Z M468.98,557.58 L474.85,563.45 L468.98,569.33 L463.1,563.45 Z M468.98,569.33 L474.85,575.2 L468.98,581.08 L463.1,575.2 Z M468.98,581.08 L474.85,586.95 L468.98,592.83 L463.1,586.95 Z M468.98,592.83 L474.85,598.7 L468.98,604.58 L463.1,598.7 Z M468.98,604.58 L474.85,610.45 L468.98,616.33 L463.1,610.45 Z M474.85,539.95 L480.73,545.83 L474.85,551.7 L468.98,545.83 Z M474.85,551.7 L480.73,557.58 L474.85,563.45 L468.98,557.58 Z M474.85,563.45 L480.73,569.33 L474.85,575.2 L468.98,569.33 Z M474.85,575.2 L480.73,581.08 L474.85,586.95 L468.98,581.08 Z M474.85,586.95 L480.73,592.83 L474.85,598.7 L468.98,592.83 Z M474.85,598.7 L480.73,604.58 L474.85,610.45 L468.98,604.58 Z M474.85,610.45 L480.73,616.33 L474.85,622.2 L468.98,616.33 Z M480.73,545.83 L486.6,551.7 L480.73,557.58 L474.85,551.7 Z M480.73,557.58 L486.6,563.45 L480.73,569.33 L474.85,563.45 Z M480.73,569.33 L486.6,575.2 L480.73,581.08 L474.85,575.2 Z M480.73,581.08 L486.6,586.95 L480.73,592.83 L474.85,586.95 Z M480.73,592.83 L486.6,598.7 L480.73,604.58 L474.85,598.7 Z M480.73,604.58 L486.6,610.45 L480.73,616.33 L474.85,610.45 Z M486.6,539.95 L492.48,545.83 L486.6,551.7 L480.73,545.83 Z M486.6,551.7 L492.48,557.58 L486.6,563.45 L480.73,557.58 Z M486.6,563.45 L492.48,569.33 L486.6,575.2 L480.73,569.33 Z M486.6,575.2 L492.48,581.08 L486.6,586.95 L480.73,581.08 Z M486.6,586.95 L492.48,592.83 L486.6,598.7 L480.73,592.83 Z M486.6,598.7 L492.48,604.58 L486.6,610.45 L480.73,604.58 Z M486.6,610.45 L492.48,616.33 L486.6,622.2 L480.73,616.33 Z " stroke="#9b6b3a" stroke-width="1.4" fill="none" clip-path="url(#h2)" stroke-linejoin="round"/>
<line x1="529.3" y1="622.3" x2="604.4" y2="676.4" stroke="#dcf2f0" stroke-width="2.6" stroke-linecap="round"/>
<circle cx="597.56" cy="667" r="2.5" fill="#a87444"/>
<circle cx="593.24" cy="673" r="2.5" fill="#a87444"/>
<text x="582.5" y="361" class="t" text-anchor="middle">200</text>
<text transform="translate(740.8,490) rotate(-90)" class="t" text-anchor="middle">200</text>
<rect x="829" y="367.4" width="254.6" height="190.8" fill="#ece9d9" stroke="#c1a27f" stroke-width="2.4" rx="1"/>
<rect x="837.8" y="377.3" width="237.5" height="172.2" fill="#ffffff" stroke="#9b6b3a" stroke-width="2.2" />
<rect x="911.5" y="547.5" width="90.3" height="13.2" fill="#ffffff" stroke="none" stroke-width="0" />
<path d="M906,549.5 H909.5 Q912,553.85 909.5,558.2 H906 Z" stroke="#9b6b3a" stroke-width="1.3" fill="#ece9d9" />
<path d="M906,549.5 V558.2" stroke="#9b6b3a" stroke-width="1.1" fill="none" />
<path d="M1007.3,549.5 H1003.8 Q1001.3,553.85 1003.8,558.2 H1007.3 Z" stroke="#9b6b3a" stroke-width="1.3" fill="#ece9d9" />
<path d="M1007.3,549.5 V558.2" stroke="#9b6b3a" stroke-width="1.1" fill="none" />
<line x1="829" y1="558.2" x2="909.5" y2="558.2" stroke="#c1a27f" stroke-width="2.4" />
<line x1="1003.8" y1="558.2" x2="1083.6" y2="558.2" stroke="#c1a27f" stroke-width="2.4" />
<line x1="913" y1="558.2" x2="1000.3" y2="558.2" stroke="#dff2f0" stroke-width="1.8" stroke-dasharray="1.8 3.2"/>
<rect x="837.8" y="377.8" width="237.5" height="8" fill="#dcc9b3" stroke="none" stroke-width="0" />
<line x1="837.8" y1="377.9" x2="1075.3" y2="377.9" stroke="#a87c50" stroke-width="2.4" />
<line x1="837.8" y1="385.1" x2="1075.3" y2="385.1" stroke="#b08c64" stroke-width="2.2" />
<line x1="837.8" y1="394.95" x2="1075.3" y2="394.95" stroke="#9b6b3a" stroke-width="1.5" />
<line x1="837.8" y1="404.4" x2="1075.3" y2="404.4" stroke="#9b6b3a" stroke-width="1.5" />
<line x1="837.8" y1="413.85" x2="1075.3" y2="413.85" stroke="#9b6b3a" stroke-width="1.5" />
<line x1="837.8" y1="423.3" x2="1075.3" y2="423.3" stroke="#9b6b3a" stroke-width="1.5" />
<line x1="837.8" y1="432.75" x2="1075.3" y2="432.75" stroke="#9b6b3a" stroke-width="1.5" />
<line x1="837.8" y1="442.2" x2="1075.3" y2="442.2" stroke="#9b6b3a" stroke-width="1.5" />
<line x1="837.8" y1="451.65" x2="1075.3" y2="451.65" stroke="#9b6b3a" stroke-width="1.8" />
<line x1="837.8" y1="461.1" x2="1068" y2="461.1" stroke="#9b6b3a" stroke-width="1.5" />
<line x1="890.2" y1="470.55" x2="1068" y2="470.55" stroke="#9b6b3a" stroke-width="1.5" />
<line x1="890.2" y1="480" x2="1068" y2="480" stroke="#9b6b3a" stroke-width="1.5" />
<line x1="890.2" y1="489.45" x2="1068" y2="489.45" stroke="#9b6b3a" stroke-width="1.5" />
<line x1="890.2" y1="498.9" x2="1009.3" y2="498.9" stroke="#9b6b3a" stroke-width="1.8" />
<line x1="1009.3" y1="498.9" x2="1020" y2="489.45" stroke="#9b6b3a" stroke-width="1.4" />
<line x1="1009.3" y1="498.9" x2="1009.3" y2="549.5" stroke="#9b6b3a" stroke-width="1.4" />
<line x1="1020" y1="489.45" x2="1020" y2="549.5" stroke="#9b6b3a" stroke-width="1.2" />
<line x1="1029.6" y1="489.45" x2="1029.6" y2="549.5" stroke="#9b6b3a" stroke-width="1.2" />
<line x1="1039.2" y1="489.45" x2="1039.2" y2="549.5" stroke="#9b6b3a" stroke-width="1.2" />
<line x1="1048.8" y1="489.45" x2="1048.8" y2="549.5" stroke="#9b6b3a" stroke-width="1.2" />
<line x1="1058.4" y1="489.45" x2="1058.4" y2="549.5" stroke="#9b6b3a" stroke-width="1.2" />
<line x1="1067.8" y1="451.65" x2="1067.8" y2="549.5" stroke="#b89a78" stroke-width="1.1" />
<line x1="1071.5" y1="451.65" x2="1071.5" y2="549.5" stroke="#9b6b3a" stroke-width="1.1" />
<rect x="837.8" y="468.2" width="51.7" height="81.3" fill="#ffffff" stroke="#9b6b3a" stroke-width="1.4" />
<line x1="837.8" y1="476.5" x2="881.2" y2="476.5" stroke="#9b6b3a" stroke-width="1.4" />
<line x1="881.2" y1="476.5" x2="881.2" y2="549.5" stroke="#9b6b3a" stroke-width="1.4" />
<line x1="881.2" y1="476.5" x2="889.5" y2="468.2" stroke="#9b6b3a" stroke-width="1.4" />
<clipPath id="h3"><rect x="837.8" y="470" width="43.2" height="79.5"/></clipPath>
<path d="M834,483.3 L839.75,489.05 L834,494.8 L828.25,489.05 Z M834,494.8 L839.75,500.55 L834,506.3 L828.25,500.55 Z M834,506.3 L839.75,512.05 L834,517.8 L828.25,512.05 Z M834,517.8 L839.75,523.55 L834,529.3 L828.25,523.55 Z M834,529.3 L839.75,535.05 L834,540.8 L828.25,535.05 Z M834,540.8 L839.75,546.55 L834,552.3 L828.25,546.55 Z M839.75,489.05 L845.5,494.8 L839.75,500.55 L834,494.8 Z M839.75,500.55 L845.5,506.3 L839.75,512.05 L834,506.3 Z M839.75,512.05 L845.5,517.8 L839.75,523.55 L834,517.8 Z M839.75,523.55 L845.5,529.3 L839.75,535.05 L834,529.3 Z M839.75,535.05 L845.5,540.8 L839.75,546.55 L834,540.8 Z M839.75,546.55 L845.5,552.3 L839.75,558.05 L834,552.3 Z M845.5,483.3 L851.25,489.05 L845.5,494.8 L839.75,489.05 Z M845.5,494.8 L851.25,500.55 L845.5,506.3 L839.75,500.55 Z M845.5,506.3 L851.25,512.05 L845.5,517.8 L839.75,512.05 Z M845.5,517.8 L851.25,523.55 L845.5,529.3 L839.75,523.55 Z M845.5,529.3 L851.25,535.05 L845.5,540.8 L839.75,535.05 Z M845.5,540.8 L851.25,546.55 L845.5,552.3 L839.75,546.55 Z M851.25,489.05 L857,494.8 L851.25,500.55 L845.5,494.8 Z M851.25,500.55 L857,506.3 L851.25,512.05 L845.5,506.3 Z M851.25,512.05 L857,517.8 L851.25,523.55 L845.5,517.8 Z M851.25,523.55 L857,529.3 L851.25,535.05 L845.5,529.3 Z M851.25,535.05 L857,540.8 L851.25,546.55 L845.5,540.8 Z M851.25,546.55 L857,552.3 L851.25,558.05 L845.5,552.3 Z M857,483.3 L862.75,489.05 L857,494.8 L851.25,489.05 Z M857,494.8 L862.75,500.55 L857,506.3 L851.25,500.55 Z M857,506.3 L862.75,512.05 L857,517.8 L851.25,512.05 Z M857,517.8 L862.75,523.55 L857,529.3 L851.25,523.55 Z M857,529.3 L862.75,535.05 L857,540.8 L851.25,535.05 Z M857,540.8 L862.75,546.55 L857,552.3 L851.25,546.55 Z M862.75,489.05 L868.5,494.8 L862.75,500.55 L857,494.8 Z M862.75,500.55 L868.5,506.3 L862.75,512.05 L857,506.3 Z M862.75,512.05 L868.5,517.8 L862.75,523.55 L857,517.8 Z M862.75,523.55 L868.5,529.3 L862.75,535.05 L857,529.3 Z M862.75,535.05 L868.5,540.8 L862.75,546.55 L857,540.8 Z M862.75,546.55 L868.5,552.3 L862.75,558.05 L857,552.3 Z M868.5,483.3 L874.25,489.05 L868.5,494.8 L862.75,489.05 Z M868.5,494.8 L874.25,500.55 L868.5,506.3 L862.75,500.55 Z M868.5,506.3 L874.25,512.05 L868.5,517.8 L862.75,512.05 Z M868.5,517.8 L874.25,523.55 L868.5,529.3 L862.75,523.55 Z M868.5,529.3 L874.25,535.05 L868.5,540.8 L862.75,535.05 Z M868.5,540.8 L874.25,546.55 L868.5,552.3 L862.75,546.55 Z " stroke="#9b6b3a" stroke-width="1.4" fill="none" clip-path="url(#h3)" stroke-linejoin="round"/>
<line x1="911.7" y1="557.8" x2="985" y2="611.7" stroke="#dcf2f0" stroke-width="2.6" stroke-linecap="round"/>
<circle cx="978.69" cy="602.92" r="2.5" fill="#a87444"/>
<circle cx="974.31" cy="608.88" r="2.5" fill="#a87444"/>
<text x="963.8" y="361" class="t" text-anchor="middle">200</text>
<text transform="translate(1121.3,459.5) rotate(-90)" class="t" text-anchor="middle">150</text>
<rect x="1223" y="367.4" width="229" height="190.8" fill="#ece9d9" stroke="#c1a27f" stroke-width="2.4" rx="1"/>
<rect x="1232.2" y="377.3" width="211" height="172.2" fill="#ffffff" stroke="#9b6b3a" stroke-width="2.2" />
<rect x="1291.7" y="547.5" width="91.6" height="13.2" fill="#ffffff" stroke="none" stroke-width="0" />
<path d="M1286.2,549.5 H1289.7 Q1292.2,553.85 1289.7,558.2 H1286.2 Z" stroke="#9b6b3a" stroke-width="1.3" fill="#ece9d9" />
<path d="M1286.2,549.5 V558.2" stroke="#9b6b3a" stroke-width="1.1" fill="none" />
<path d="M1388.8,549.5 H1385.3 Q1382.8,553.85 1385.3,558.2 H1388.8 Z" stroke="#9b6b3a" stroke-width="1.3" fill="#ece9d9" />
<path d="M1388.8,549.5 V558.2" stroke="#9b6b3a" stroke-width="1.1" fill="none" />
<line x1="1223" y1="558.2" x2="1289.7" y2="558.2" stroke="#c1a27f" stroke-width="2.4" />
<line x1="1385.3" y1="558.2" x2="1452" y2="558.2" stroke="#c1a27f" stroke-width="2.4" />
<line x1="1293.2" y1="558.2" x2="1381.8" y2="558.2" stroke="#dff2f0" stroke-width="1.8" stroke-dasharray="1.8 3.2"/>
<rect x="1232.2" y="377.8" width="211" height="8" fill="#dcc9b3" stroke="none" stroke-width="0" />
<line x1="1232.2" y1="377.9" x2="1443.2" y2="377.9" stroke="#a87c50" stroke-width="2.4" />
<line x1="1232.2" y1="385.1" x2="1443.2" y2="385.1" stroke="#b08c64" stroke-width="2.2" />
<line x1="1232.2" y1="394.95" x2="1443.2" y2="394.95" stroke="#9b6b3a" stroke-width="1.5" />
<line x1="1232.2" y1="404.4" x2="1443.2" y2="404.4" stroke="#9b6b3a" stroke-width="1.5" />
<line x1="1232.2" y1="413.85" x2="1443.2" y2="413.85" stroke="#9b6b3a" stroke-width="1.5" />
<line x1="1232.2" y1="423.3" x2="1443.2" y2="423.3" stroke="#9b6b3a" stroke-width="1.5" />
<line x1="1232.2" y1="432.75" x2="1443.2" y2="432.75" stroke="#9b6b3a" stroke-width="1.5" />
<line x1="1232.2" y1="442.2" x2="1443.2" y2="442.2" stroke="#9b6b3a" stroke-width="1.5" />
<line x1="1232.2" y1="451.65" x2="1443.2" y2="451.65" stroke="#9b6b3a" stroke-width="1.8" />
<line x1="1232.2" y1="461.1" x2="1443.2" y2="461.1" stroke="#9b6b3a" stroke-width="1.5" />
<line x1="1283.2" y1="470.55" x2="1443.2" y2="470.55" stroke="#9b6b3a" stroke-width="1.5" />
<line x1="1283.2" y1="480" x2="1443.2" y2="480" stroke="#9b6b3a" stroke-width="1.5" />
<line x1="1283.2" y1="489.45" x2="1443.2" y2="489.45" stroke="#9b6b3a" stroke-width="1.5" />
<line x1="1283.2" y1="498.9" x2="1443.2" y2="498.9" stroke="#9b6b3a" stroke-width="1.5" />
<line x1="1283.2" y1="508.35" x2="1443.2" y2="508.35" stroke="#9b6b3a" stroke-width="1.8" />
<rect x="1232.2" y="468.2" width="51" height="81.3" fill="#ffffff" stroke="#9b6b3a" stroke-width="1.4" />
<line x1="1232.2" y1="476.5" x2="1274.8" y2="476.5" stroke="#9b6b3a" stroke-width="1.4" />
<line x1="1274.8" y1="476.5" x2="1274.8" y2="549.5" stroke="#9b6b3a" stroke-width="1.4" />
<line x1="1274.8" y1="476.5" x2="1283.2" y2="468.2" stroke="#9b6b3a" stroke-width="1.4" />
<clipPath id="h4"><rect x="1232.2" y="470" width="41.8" height="79.5"/></clipPath>
<path d="M1227.3,482.8 L1233.1,488.6 L1227.3,494.4 L1221.5,488.6 Z M1227.3,494.4 L1233.1,500.2 L1227.3,506 L1221.5,500.2 Z M1227.3,506 L1233.1,511.8 L1227.3,517.6 L1221.5,511.8 Z M1227.3,517.6 L1233.1,523.4 L1227.3,529.2 L1221.5,523.4 Z M1227.3,529.2 L1233.1,535 L1227.3,540.8 L1221.5,535 Z M1227.3,540.8 L1233.1,546.6 L1227.3,552.4 L1221.5,546.6 Z M1233.1,488.6 L1238.9,494.4 L1233.1,500.2 L1227.3,494.4 Z M1233.1,500.2 L1238.9,506 L1233.1,511.8 L1227.3,506 Z M1233.1,511.8 L1238.9,517.6 L1233.1,523.4 L1227.3,517.6 Z M1233.1,523.4 L1238.9,529.2 L1233.1,535 L1227.3,529.2 Z M1233.1,535 L1238.9,540.8 L1233.1,546.6 L1227.3,540.8 Z M1233.1,546.6 L1238.9,552.4 L1233.1,558.2 L1227.3,552.4 Z M1238.9,482.8 L1244.7,488.6 L1238.9,494.4 L1233.1,488.6 Z M1238.9,494.4 L1244.7,500.2 L1238.9,506 L1233.1,500.2 Z M1238.9,506 L1244.7,511.8 L1238.9,517.6 L1233.1,511.8 Z M1238.9,517.6 L1244.7,523.4 L1238.9,529.2 L1233.1,523.4 Z M1238.9,529.2 L1244.7,535 L1238.9,540.8 L1233.1,535 Z M1238.9,540.8 L1244.7,546.6 L1238.9,552.4 L1233.1,546.6 Z M1244.7,488.6 L1250.5,494.4 L1244.7,500.2 L1238.9,494.4 Z M1244.7,500.2 L1250.5,506 L1244.7,511.8 L1238.9,506 Z M1244.7,511.8 L1250.5,517.6 L1244.7,523.4 L1238.9,517.6 Z M1244.7,523.4 L1250.5,529.2 L1244.7,535 L1238.9,529.2 Z M1244.7,535 L1250.5,540.8 L1244.7,546.6 L1238.9,540.8 Z M1244.7,546.6 L1250.5,552.4 L1244.7,558.2 L1238.9,552.4 Z M1250.5,482.8 L1256.3,488.6 L1250.5,494.4 L1244.7,488.6 Z M1250.5,494.4 L1256.3,500.2 L1250.5,506 L1244.7,500.2 Z M1250.5,506 L1256.3,511.8 L1250.5,517.6 L1244.7,511.8 Z M1250.5,517.6 L1256.3,523.4 L1250.5,529.2 L1244.7,523.4 Z M1250.5,529.2 L1256.3,535 L1250.5,540.8 L1244.7,535 Z M1250.5,540.8 L1256.3,546.6 L1250.5,552.4 L1244.7,546.6 Z M1256.3,488.6 L1262.1,494.4 L1256.3,500.2 L1250.5,494.4 Z M1256.3,500.2 L1262.1,506 L1256.3,511.8 L1250.5,506 Z M1256.3,511.8 L1262.1,517.6 L1256.3,523.4 L1250.5,517.6 Z M1256.3,523.4 L1262.1,529.2 L1256.3,535 L1250.5,529.2 Z M1256.3,535 L1262.1,540.8 L1256.3,546.6 L1250.5,540.8 Z M1256.3,546.6 L1262.1,552.4 L1256.3,558.2 L1250.5,552.4 Z M1262.1,482.8 L1267.9,488.6 L1262.1,494.4 L1256.3,488.6 Z M1262.1,494.4 L1267.9,500.2 L1262.1,506 L1256.3,500.2 Z M1262.1,506 L1267.9,511.8 L1262.1,517.6 L1256.3,511.8 Z M1262.1,517.6 L1267.9,523.4 L1262.1,529.2 L1256.3,523.4 Z M1262.1,529.2 L1267.9,535 L1262.1,540.8 L1256.3,535 Z M1262.1,540.8 L1267.9,546.6 L1262.1,552.4 L1256.3,546.6 Z " stroke="#9b6b3a" stroke-width="1.4" fill="none" clip-path="url(#h4)" stroke-linejoin="round"/>
<line x1="1291.7" y1="557.8" x2="1366.2" y2="611.7" stroke="#dcf2f0" stroke-width="2.6" stroke-linecap="round"/>
<circle cx="1359.97" cy="602.8" r="2.5" fill="#a87444"/>
<circle cx="1355.63" cy="608.8" r="2.5" fill="#a87444"/>
<text x="1342.4" y="361" class="t" text-anchor="middle">180</text>
<text transform="translate(1504.6,459.5) rotate(-90)" class="t" text-anchor="middle">150</text>
<rect x="1604.2" y="367.4" width="229.1" height="152.3" fill="#ece9d9" stroke="#c1a27f" stroke-width="2.4" rx="1"/>
<rect x="1612.7" y="376.5" width="211.3" height="134.4" fill="#ffffff" stroke="#9b6b3a" stroke-width="2.2" />
<rect x="1673.7" y="508.9" width="91.1" height="13.3" fill="#ffffff" stroke="none" stroke-width="0" />
<path d="M1668.2,510.9 H1671.7 Q1674.2,515.3 1671.7,519.7 H1668.2 Z" stroke="#9b6b3a" stroke-width="1.3" fill="#ece9d9" />
<path d="M1668.2,510.9 V519.7" stroke="#9b6b3a" stroke-width="1.1" fill="none" />
<path d="M1770.3,510.9 H1766.8 Q1764.3,515.3 1766.8,519.7 H1770.3 Z" stroke="#9b6b3a" stroke-width="1.3" fill="#ece9d9" />
<path d="M1770.3,510.9 V519.7" stroke="#9b6b3a" stroke-width="1.1" fill="none" />
<line x1="1604.2" y1="519.7" x2="1671.7" y2="519.7" stroke="#c1a27f" stroke-width="2.4" />
<line x1="1766.8" y1="519.7" x2="1833.3" y2="519.7" stroke="#c1a27f" stroke-width="2.4" />
<line x1="1675.2" y1="519.7" x2="1763.3" y2="519.7" stroke="#dff2f0" stroke-width="1.8" stroke-dasharray="1.8 3.2"/>
<rect x="1612.7" y="377" width="211.3" height="8" fill="#dcc9b3" stroke="none" stroke-width="0" />
<line x1="1612.7" y1="377.1" x2="1824" y2="377.1" stroke="#a87c50" stroke-width="2.4" />
<line x1="1612.7" y1="385.1" x2="1824" y2="385.1" stroke="#b08c64" stroke-width="2.2" />
<line x1="1612.7" y1="394.95" x2="1824" y2="394.95" stroke="#9b6b3a" stroke-width="1.5" />
<line x1="1612.7" y1="404.4" x2="1824" y2="404.4" stroke="#9b6b3a" stroke-width="1.5" />
<line x1="1612.7" y1="413.85" x2="1824" y2="413.85" stroke="#9b6b3a" stroke-width="1.5" />
<line x1="1612.7" y1="423.3" x2="1824" y2="423.3" stroke="#9b6b3a" stroke-width="1.5" />
<line x1="1612.7" y1="432.75" x2="1824" y2="432.75" stroke="#9b6b3a" stroke-width="1.8" />
<line x1="1654.7" y1="442.2" x2="1824" y2="442.2" stroke="#9b6b3a" stroke-width="1.5" />
<line x1="1654.7" y1="451.65" x2="1824" y2="451.65" stroke="#9b6b3a" stroke-width="1.5" />
<line x1="1654.7" y1="461.1" x2="1824" y2="461.1" stroke="#9b6b3a" stroke-width="1.5" />
<line x1="1654.7" y1="470.55" x2="1824" y2="470.55" stroke="#9b6b3a" stroke-width="1.5" />
<line x1="1654.7" y1="480" x2="1824" y2="480" stroke="#9b6b3a" stroke-width="1.8" />
<line x1="1654.7" y1="432.75" x2="1654.7" y2="480" stroke="#9b6b3a" stroke-width="1.4" />
<rect x="1612.7" y="443.9" width="37.3" height="67" fill="#ffffff" stroke="#9b6b3a" stroke-width="1.6" />
<clipPath id="h5"><rect x="1612.7" y="443.9" width="37.3" height="67"/></clipPath>
<path d="M1609.3,437.9 L1615.05,443.65 L1609.3,449.4 L1603.55,443.65 Z M1609.3,449.4 L1615.05,455.15 L1609.3,460.9 L1603.55,455.15 Z M1609.3,460.9 L1615.05,466.65 L1609.3,472.4 L1603.55,466.65 Z M1609.3,472.4 L1615.05,478.15 L1609.3,483.9 L1603.55,478.15 Z M1609.3,483.9 L1615.05,489.65 L1609.3,495.4 L1603.55,489.65 Z M1609.3,495.4 L1615.05,501.15 L1609.3,506.9 L1603.55,501.15 Z M1609.3,506.9 L1615.05,512.65 L1609.3,518.4 L1603.55,512.65 Z M1615.05,443.65 L1620.8,449.4 L1615.05,455.15 L1609.3,449.4 Z M1615.05,455.15 L1620.8,460.9 L1615.05,466.65 L1609.3,460.9 Z M1615.05,466.65 L1620.8,472.4 L1615.05,478.15 L1609.3,472.4 Z M1615.05,478.15 L1620.8,483.9 L1615.05,489.65 L1609.3,483.9 Z M1615.05,489.65 L1620.8,495.4 L1615.05,501.15 L1609.3,495.4 Z M1615.05,501.15 L1620.8,506.9 L1615.05,512.65 L1609.3,506.9 Z M1620.8,437.9 L1626.55,443.65 L1620.8,449.4 L1615.05,443.65 Z M1620.8,449.4 L1626.55,455.15 L1620.8,460.9 L1615.05,455.15 Z M1620.8,460.9 L1626.55,466.65 L1620.8,472.4 L1615.05,466.65 Z M1620.8,472.4 L1626.55,478.15 L1620.8,483.9 L1615.05,478.15 Z M1620.8,483.9 L1626.55,489.65 L1620.8,495.4 L1615.05,489.65 Z M1620.8,495.4 L1626.55,501.15 L1620.8,506.9 L1615.05,501.15 Z M1620.8,506.9 L1626.55,512.65 L1620.8,518.4 L1615.05,512.65 Z M1626.55,443.65 L1632.3,449.4 L1626.55,455.15 L1620.8,449.4 Z M1626.55,455.15 L1632.3,460.9 L1626.55,466.65 L1620.8,460.9 Z M1626.55,466.65 L1632.3,472.4 L1626.55,478.15 L1620.8,472.4 Z M1626.55,478.15 L1632.3,483.9 L1626.55,489.65 L1620.8,483.9 Z M1626.55,489.65 L1632.3,495.4 L1626.55,501.15 L1620.8,495.4 Z M1626.55,501.15 L1632.3,506.9 L1626.55,512.65 L1620.8,506.9 Z M1632.3,437.9 L1638.05,443.65 L1632.3,449.4 L1626.55,443.65 Z M1632.3,449.4 L1638.05,455.15 L1632.3,460.9 L1626.55,455.15 Z M1632.3,460.9 L1638.05,466.65 L1632.3,472.4 L1626.55,466.65 Z M1632.3,472.4 L1638.05,478.15 L1632.3,483.9 L1626.55,478.15 Z M1632.3,483.9 L1638.05,489.65 L1632.3,495.4 L1626.55,489.65 Z M1632.3,495.4 L1638.05,501.15 L1632.3,506.9 L1626.55,501.15 Z M1632.3,506.9 L1638.05,512.65 L1632.3,518.4 L1626.55,512.65 Z M1638.05,443.65 L1643.8,449.4 L1638.05,455.15 L1632.3,449.4 Z M1638.05,455.15 L1643.8,460.9 L1638.05,466.65 L1632.3,460.9 Z M1638.05,466.65 L1643.8,472.4 L1638.05,478.15 L1632.3,472.4 Z M1638.05,478.15 L1643.8,483.9 L1638.05,489.65 L1632.3,483.9 Z M1638.05,489.65 L1643.8,495.4 L1638.05,501.15 L1632.3,495.4 Z M1638.05,501.15 L1643.8,506.9 L1638.05,512.65 L1632.3,506.9 Z M1643.8,437.9 L1649.55,443.65 L1643.8,449.4 L1638.05,443.65 Z M1643.8,449.4 L1649.55,455.15 L1643.8,460.9 L1638.05,455.15 Z M1643.8,460.9 L1649.55,466.65 L1643.8,472.4 L1638.05,466.65 Z M1643.8,472.4 L1649.55,478.15 L1643.8,483.9 L1638.05,478.15 Z M1643.8,483.9 L1649.55,489.65 L1643.8,495.4 L1638.05,489.65 Z M1643.8,495.4 L1649.55,501.15 L1643.8,506.9 L1638.05,501.15 Z M1643.8,506.9 L1649.55,512.65 L1643.8,518.4 L1638.05,512.65 Z M1649.55,443.65 L1655.3,449.4 L1649.55,455.15 L1643.8,449.4 Z M1649.55,455.15 L1655.3,460.9 L1649.55,466.65 L1643.8,460.9 Z M1649.55,466.65 L1655.3,472.4 L1649.55,478.15 L1643.8,472.4 Z M1649.55,478.15 L1655.3,483.9 L1649.55,489.65 L1643.8,483.9 Z M1649.55,489.65 L1655.3,495.4 L1649.55,501.15 L1643.8,495.4 Z M1649.55,501.15 L1655.3,506.9 L1649.55,512.65 L1643.8,506.9 Z M1655.3,437.9 L1661.05,443.65 L1655.3,449.4 L1649.55,443.65 Z M1655.3,449.4 L1661.05,455.15 L1655.3,460.9 L1649.55,455.15 Z M1655.3,460.9 L1661.05,466.65 L1655.3,472.4 L1649.55,466.65 Z M1655.3,472.4 L1661.05,478.15 L1655.3,483.9 L1649.55,478.15 Z M1655.3,483.9 L1661.05,489.65 L1655.3,495.4 L1649.55,489.65 Z M1655.3,495.4 L1661.05,501.15 L1655.3,506.9 L1649.55,501.15 Z M1655.3,506.9 L1661.05,512.65 L1655.3,518.4 L1649.55,512.65 Z " stroke="#9b6b3a" stroke-width="1.4" fill="none" clip-path="url(#h5)" stroke-linejoin="round"/>
<line x1="1673.7" y1="519.3" x2="1747" y2="572.4" stroke="#dcf2f0" stroke-width="2.6" stroke-linecap="round"/>
<circle cx="1741.07" cy="564.1" r="2.5" fill="#a87444"/>
<circle cx="1736.73" cy="570.1" r="2.5" fill="#a87444"/>
<text x="1722.5" y="361" class="t" text-anchor="middle">180</text>
<text transform="translate(1886.2,440.6) rotate(-90)" class="t" text-anchor="middle">120</text>
<polyline points="62.5,735.8 176.2,735.8 187.8,725.7 365,725.7 376.6,735.8 628.75,735.8 638.9,725.7 789.7,725.7 799,735.8 969.8,735.8 980,725.7 1109.3,725.7 1118.7,735.8 1311,735.8 1320.5,725.7 1424,725.7 1432.9,735.8 1593.5,735.8 1604.5,725.7 1684.7,725.7 1694.9,735.8 1816.7,735.8" fill="none" stroke="#ad9070" stroke-width="2.1" stroke-linejoin="miter"/>
<g transform="translate(195.9,0)" fill="#fff" stroke="#a98b66" stroke-width="1.35" stroke-linejoin="round">
<path d="M-2.8,699.2 C-6.5,699 -10.8,701 -11.9,703.6 C-12.2,706.5 -9.5,709.6 -6.2,709.6 L-6.2,740.6 Q-6.2,743.3 -3.1,743.3 Q0,743.3 0,740.6 Q0,743.3 3.1,743.3 Q6.2,743.3 6.2,740.6 L6.2,709.6 C9.5,709.6 12.2,706.5 11.9,703.6 C10.8,701 6.5,699 2.8,699.2 Z"/>
<path d="M0,724.3 V740.5" fill="none"/>
<path d="M-9,705.6 C-9,703.8 -7,701.6 -4.5,701.6 C-3,701.8 -2.6,703.8 -2.8,705.6 Z M9,705.6 C9,703.8 7,701.6 4.5,701.6 C3,701.8 2.6,703.8 2.8,705.6 Z"/>
<path d="M-8.6,705.8 H8.6" fill="none"/>
<circle cx="0" cy="701.1" r="3.8"/>
</g>
<g transform="translate(222.4,0)" fill="#fff" stroke="#a98b66" stroke-width="1.35" stroke-linejoin="round">
<path d="M-2.8,699.2 C-6.5,699 -10.8,701 -11.9,703.6 C-12.2,706.5 -9.5,709.6 -6.2,709.6 L-6.2,740.6 Q-6.2,743.3 -3.1,743.3 Q0,743.3 0,740.6 Q0,743.3 3.1,743.3 Q6.2,743.3 6.2,740.6 L6.2,709.6 C9.5,709.6 12.2,706.5 11.9,703.6 C10.8,701 6.5,699 2.8,699.2 Z"/>
<path d="M0,724.3 V740.5" fill="none"/>
<path d="M-9,705.6 C-9,703.8 -7,701.6 -4.5,701.6 C-3,701.8 -2.6,703.8 -2.8,705.6 Z M9,705.6 C9,703.8 7,701.6 4.5,701.6 C3,701.8 2.6,703.8 2.8,705.6 Z"/>
<path d="M-8.6,705.8 H8.6" fill="none"/>
<circle cx="0" cy="701.1" r="3.8"/>
</g>
<g transform="translate(244.1,0)" fill="#fff" stroke="#a98b66" stroke-width="1.35" stroke-linejoin="round">
<path d="M-9.3,725.5 C-10,732 -8.2,741.4 -4.2,741.4 C-1.6,741.4 -1,738.5 -1.1,735 L-0.8,725.5 Z"/>
<path d="M9.3,725.5 C10,732 8.2,741.4 4.2,741.4 C1.6,741.4 1,738.5 1.1,735 L0.8,725.5 Z"/>
<path d="M-9.6,721 C-10.2,714 -8,710.2 -3.5,710.2 H3.5 C8,710.2 10.2,714 9.6,721 C9.4,723.5 8,725 5.5,725 L1.5,725 L0,722.5 L-1.5,725 L-5.5,725 C-8,725 -9.4,723.5 -9.6,721 Z"/>
<path d="M-5.6,713.2 C-7.6,717 -6.6,721.5 -1.6,724.6 M5.6,713.2 C7.6,717 6.6,721.5 1.6,724.6" fill="none"/>
<circle cx="0" cy="704.9" r="4.9"/>
</g>
<g transform="translate(266.5,0)" fill="#fff" stroke="#a98b66" stroke-width="1.35" stroke-linejoin="round">
<path d="M-9.3,725.5 C-10,732 -8.2,741.4 -4.2,741.4 C-1.6,741.4 -1,738.5 -1.1,735 L-0.8,725.5 Z"/>
<path d="M9.3,725.5 C10,732 8.2,741.4 4.2,741.4 C1.6,741.4 1,738.5 1.1,735 L0.8,725.5 Z"/>
<path d="M-9.6,721 C-10.2,714 -8,710.2 -3.5,710.2 H3.5 C8,710.2 10.2,714 9.6,721 C9.4,723.5 8,725 5.5,725 L1.5,725 L0,722.5 L-1.5,725 L-5.5,725 C-8,725 -9.4,723.5 -9.6,721 Z"/>
<path d="M-5.6,713.2 C-7.6,717 -6.6,721.5 -1.6,724.6 M5.6,713.2 C7.6,717 6.6,721.5 1.6,724.6" fill="none"/>
<circle cx="0" cy="704.9" r="4.9"/>
</g>
<g transform="translate(288.9,0)" fill="#fff" stroke="#a98b66" stroke-width="1.35" stroke-linejoin="round">
<path d="M-9.3,725.5 C-10,732 -8.2,741.4 -4.2,741.4 C-1.6,741.4 -1,738.5 -1.1,735 L-0.8,725.5 Z"/>
<path d="M9.3,725.5 C10,732 8.2,741.4 4.2,741.4 C1.6,741.4 1,738.5 1.1,735 L0.8,725.5 Z"/>
<path d="M-9.6,721 C-10.2,714 -8,710.2 -3.5,710.2 H3.5 C8,710.2 10.2,714 9.6,721 C9.4,723.5 8,725 5.5,725 L1.5,725 L0,722.5 L-1.5,725 L-5.5,725 C-8,725 -9.4,723.5 -9.6,721 Z"/>
<path d="M-5.6,713.2 C-7.6,717 -6.6,721.5 -1.6,724.6 M5.6,713.2 C7.6,717 6.6,721.5 1.6,724.6" fill="none"/>
<circle cx="0" cy="704.9" r="4.9"/>
</g>
<g transform="translate(305.3,0)" fill="#fff" stroke="#a98b66" stroke-width="1.35" stroke-linejoin="round">
<path d="M-1.2,711.5 V725.2 H14 L19.5,721 C20.5,720.3 21.5,720.3 22.5,721 L31,724.9 H33.5 C35,724 35,722 33.5,721 L25.3,715.8 C24,715 23,715 22,715.5 L18.6,717.2 C17,718.6 15.6,719.2 14.2,718.6 L5,713.6 H0.8 Z"/>
<path d="M3,714 V721.5 C3,722.6 4,723.2 6.5,723.4" fill="none"/>
<circle cx="0" cy="706.9" r="5"/>
</g>
<g transform="translate(682.7,0) scale(-1,1)" fill="#fff" stroke="#a98b66" stroke-width="1.35" stroke-linejoin="round">
<path d="M-1.2,711.5 V725.2 H14 L19.5,721 C20.5,720.3 21.5,720.3 22.5,721 L31,724.9 H33.5 C35,724 35,722 33.5,721 L25.3,715.8 C24,715 23,715 22,715.5 L18.6,717.2 C17,718.6 15.6,719.2 14.2,718.6 L5,713.6 H0.8 Z"/>
<path d="M3,714 V721.5 C3,722.6 4,723.2 6.5,723.4" fill="none"/>
<circle cx="0" cy="706.9" r="5"/>
</g>
<g transform="translate(699.5,0)" fill="#fff" stroke="#a98b66" stroke-width="1.35" stroke-linejoin="round">
<path d="M-9.3,725.5 C-10,732 -8.2,741.4 -4.2,741.4 C-1.6,741.4 -1,738.5 -1.1,735 L-0.8,725.5 Z"/>
<path d="M9.3,725.5 C10,732 8.2,741.4 4.2,741.4 C1.6,741.4 1,738.5 1.1,735 L0.8,725.5 Z"/>
<path d="M-9.6,721 C-10.2,714 -8,710.2 -3.5,710.2 H3.5 C8,710.2 10.2,714 9.6,721 C9.4,723.5 8,725 5.5,725 L1.5,725 L0,722.5 L-1.5,725 L-5.5,725 C-8,725 -9.4,723.5 -9.6,721 Z"/>
<path d="M-5.6,713.2 C-7.6,717 -6.6,721.5 -1.6,724.6 M5.6,713.2 C7.6,717 6.6,721.5 1.6,724.6" fill="none"/>
<circle cx="0" cy="704.9" r="4.9"/>
</g>
<g transform="translate(721.7,0)" fill="#fff" stroke="#a98b66" stroke-width="1.35" stroke-linejoin="round">
<path d="M-9.3,725.5 C-10,732 -8.2,741.4 -4.2,741.4 C-1.6,741.4 -1,738.5 -1.1,735 L-0.8,725.5 Z"/>
<path d="M9.3,725.5 C10,732 8.2,741.4 4.2,741.4 C1.6,741.4 1,738.5 1.1,735 L0.8,725.5 Z"/>
<path d="M-9.6,721 C-10.2,714 -8,710.2 -3.5,710.2 H3.5 C8,710.2 10.2,714 9.6,721 C9.4,723.5 8,725 5.5,725 L1.5,725 L0,722.5 L-1.5,725 L-5.5,725 C-8,725 -9.4,723.5 -9.6,721 Z"/>
<path d="M-5.6,713.2 C-7.6,717 -6.6,721.5 -1.6,724.6 M5.6,713.2 C7.6,717 6.6,721.5 1.6,724.6" fill="none"/>
<circle cx="0" cy="704.9" r="4.9"/>
</g>
<g transform="translate(744.4,0)" fill="#fff" stroke="#a98b66" stroke-width="1.35" stroke-linejoin="round">
<path d="M-9.3,725.5 C-10,732 -8.2,741.4 -4.2,741.4 C-1.6,741.4 -1,738.5 -1.1,735 L-0.8,725.5 Z"/>
<path d="M9.3,725.5 C10,732 8.2,741.4 4.2,741.4 C1.6,741.4 1,738.5 1.1,735 L0.8,725.5 Z"/>
<path d="M-9.6,721 C-10.2,714 -8,710.2 -3.5,710.2 H3.5 C8,710.2 10.2,714 9.6,721 C9.4,723.5 8,725 5.5,725 L1.5,725 L0,722.5 L-1.5,725 L-5.5,725 C-8,725 -9.4,723.5 -9.6,721 Z"/>
<path d="M-5.6,713.2 C-7.6,717 -6.6,721.5 -1.6,724.6 M5.6,713.2 C7.6,717 6.6,721.5 1.6,724.6" fill="none"/>
<circle cx="0" cy="704.9" r="4.9"/>
</g>
<g transform="translate(765.5,0)" fill="#fff" stroke="#a98b66" stroke-width="1.35" stroke-linejoin="round">
<path d="M-2.8,699.2 C-6.5,699 -10.8,701 -11.9,703.6 C-12.2,706.5 -9.5,709.6 -6.2,709.6 L-6.2,740.6 Q-6.2,743.3 -3.1,743.3 Q0,743.3 0,740.6 Q0,743.3 3.1,743.3 Q6.2,743.3 6.2,740.6 L6.2,709.6 C9.5,709.6 12.2,706.5 11.9,703.6 C10.8,701 6.5,699 2.8,699.2 Z"/>
<path d="M0,724.3 V740.5" fill="none"/>
<path d="M-9,705.6 C-9,703.8 -7,701.6 -4.5,701.6 C-3,701.8 -2.6,703.8 -2.8,705.6 Z M9,705.6 C9,703.8 7,701.6 4.5,701.6 C3,701.8 2.6,703.8 2.8,705.6 Z"/>
<path d="M-8.6,705.8 H8.6" fill="none"/>
<circle cx="0" cy="701.1" r="3.8"/>
</g>
<g transform="translate(1021.9,0) scale(-1,1)" fill="#fff" stroke="#a98b66" stroke-width="1.35" stroke-linejoin="round">
<path d="M-1.2,711.5 V725.2 H14 L19.5,721 C20.5,720.3 21.5,720.3 22.5,721 L31,724.9 H33.5 C35,724 35,722 33.5,721 L25.3,715.8 C24,715 23,715 22,715.5 L18.6,717.2 C17,718.6 15.6,719.2 14.2,718.6 L5,713.6 H0.8 Z"/>
<path d="M3,714 V721.5 C3,722.6 4,723.2 6.5,723.4" fill="none"/>
<circle cx="0" cy="706.9" r="5"/>
</g>
<g transform="translate(1038.8,0)" fill="#fff" stroke="#a98b66" stroke-width="1.35" stroke-linejoin="round">
<path d="M-9.3,725.5 C-10,732 -8.2,741.4 -4.2,741.4 C-1.6,741.4 -1,738.5 -1.1,735 L-0.8,725.5 Z"/>
<path d="M9.3,725.5 C10,732 8.2,741.4 4.2,741.4 C1.6,741.4 1,738.5 1.1,735 L0.8,725.5 Z"/>
<path d="M-9.6,721 C-10.2,714 -8,710.2 -3.5,710.2 H3.5 C8,710.2 10.2,714 9.6,721 C9.4,723.5 8,725 5.5,725 L1.5,725 L0,722.5 L-1.5,725 L-5.5,725 C-8,725 -9.4,723.5 -9.6,721 Z"/>
<path d="M-5.6,713.2 C-7.6,717 -6.6,721.5 -1.6,724.6 M5.6,713.2 C7.6,717 6.6,721.5 1.6,724.6" fill="none"/>
<circle cx="0" cy="704.9" r="4.9"/>
</g>
<g transform="translate(1061.2,0)" fill="#fff" stroke="#a98b66" stroke-width="1.35" stroke-linejoin="round">
<path d="M-9.3,725.5 C-10,732 -8.2,741.4 -4.2,741.4 C-1.6,741.4 -1,738.5 -1.1,735 L-0.8,725.5 Z"/>
<path d="M9.3,725.5 C10,732 8.2,741.4 4.2,741.4 C1.6,741.4 1,738.5 1.1,735 L0.8,725.5 Z"/>
<path d="M-9.6,721 C-10.2,714 -8,710.2 -3.5,710.2 H3.5 C8,710.2 10.2,714 9.6,721 C9.4,723.5 8,725 5.5,725 L1.5,725 L0,722.5 L-1.5,725 L-5.5,725 C-8,725 -9.4,723.5 -9.6,721 Z"/>
<path d="M-5.6,713.2 C-7.6,717 -6.6,721.5 -1.6,724.6 M5.6,713.2 C7.6,717 6.6,721.5 1.6,724.6" fill="none"/>
<circle cx="0" cy="704.9" r="4.9"/>
</g>
<g transform="translate(1083.5,0)" fill="#fff" stroke="#a98b66" stroke-width="1.35" stroke-linejoin="round">
<path d="M-9.3,725.5 C-10,732 -8.2,741.4 -4.2,741.4 C-1.6,741.4 -1,738.5 -1.1,735 L-0.8,725.5 Z"/>
<path d="M9.3,725.5 C10,732 8.2,741.4 4.2,741.4 C1.6,741.4 1,738.5 1.1,735 L0.8,725.5 Z"/>
<path d="M-9.6,721 C-10.2,714 -8,710.2 -3.5,710.2 H3.5 C8,710.2 10.2,714 9.6,721 C9.4,723.5 8,725 5.5,725 L1.5,725 L0,722.5 L-1.5,725 L-5.5,725 C-8,725 -9.4,723.5 -9.6,721 Z"/>
<path d="M-5.6,713.2 C-7.6,717 -6.6,721.5 -1.6,724.6 M5.6,713.2 C7.6,717 6.6,721.5 1.6,724.6" fill="none"/>
<circle cx="0" cy="704.9" r="4.9"/>
</g>
<g transform="translate(1361.1,0) scale(-1,1)" fill="#fff" stroke="#a98b66" stroke-width="1.35" stroke-linejoin="round">
<path d="M-1.2,711.5 V725.2 H14 L19.5,721 C20.5,720.3 21.5,720.3 22.5,721 L31,724.9 H33.5 C35,724 35,722 33.5,721 L25.3,715.8 C24,715 23,715 22,715.5 L18.6,717.2 C17,718.6 15.6,719.2 14.2,718.6 L5,713.6 H0.8 Z"/>
<path d="M3,714 V721.5 C3,722.6 4,723.2 6.5,723.4" fill="none"/>
<circle cx="0" cy="706.9" r="5"/>
</g>
<g transform="translate(1377.7,0)" fill="#fff" stroke="#a98b66" stroke-width="1.35" stroke-linejoin="round">
<path d="M-9.3,725.5 C-10,732 -8.2,741.4 -4.2,741.4 C-1.6,741.4 -1,738.5 -1.1,735 L-0.8,725.5 Z"/>
<path d="M9.3,725.5 C10,732 8.2,741.4 4.2,741.4 C1.6,741.4 1,738.5 1.1,735 L0.8,725.5 Z"/>
<path d="M-9.6,721 C-10.2,714 -8,710.2 -3.5,710.2 H3.5 C8,710.2 10.2,714 9.6,721 C9.4,723.5 8,725 5.5,725 L1.5,725 L0,722.5 L-1.5,725 L-5.5,725 C-8,725 -9.4,723.5 -9.6,721 Z"/>
<path d="M-5.6,713.2 C-7.6,717 -6.6,721.5 -1.6,724.6 M5.6,713.2 C7.6,717 6.6,721.5 1.6,724.6" fill="none"/>
<circle cx="0" cy="704.9" r="4.9"/>
</g>
<g transform="translate(1400.4,0)" fill="#fff" stroke="#a98b66" stroke-width="1.35" stroke-linejoin="round">
<path d="M-9.3,725.5 C-10,732 -8.2,741.4 -4.2,741.4 C-1.6,741.4 -1,738.5 -1.1,735 L-0.8,725.5 Z"/>
<path d="M9.3,725.5 C10,732 8.2,741.4 4.2,741.4 C1.6,741.4 1,738.5 1.1,735 L0.8,725.5 Z"/>
<path d="M-9.6,721 C-10.2,714 -8,710.2 -3.5,710.2 H3.5 C8,710.2 10.2,714 9.6,721 C9.4,723.5 8,725 5.5,725 L1.5,725 L0,722.5 L-1.5,725 L-5.5,725 C-8,725 -9.4,723.5 -9.6,721 Z"/>
<path d="M-5.6,713.2 C-7.6,717 -6.6,721.5 -1.6,724.6 M5.6,713.2 C7.6,717 6.6,721.5 1.6,724.6" fill="none"/>
<circle cx="0" cy="704.9" r="4.9"/>
</g>
<g transform="translate(1646,0) scale(-1,1)" fill="#fff" stroke="#a98b66" stroke-width="1.35" stroke-linejoin="round">
<path d="M-1.2,711.5 V725.2 H14 L19.5,721 C20.5,720.3 21.5,720.3 22.5,721 L31,724.9 H33.5 C35,724 35,722 33.5,721 L25.3,715.8 C24,715 23,715 22,715.5 L18.6,717.2 C17,718.6 15.6,719.2 14.2,718.6 L5,713.6 H0.8 Z"/>
<path d="M3,714 V721.5 C3,722.6 4,723.2 6.5,723.4" fill="none"/>
<circle cx="0" cy="706.9" r="5"/>
</g>
<g transform="translate(1662.8,0)" fill="#fff" stroke="#a98b66" stroke-width="1.35" stroke-linejoin="round">
<path d="M-9.3,725.5 C-10,732 -8.2,741.4 -4.2,741.4 C-1.6,741.4 -1,738.5 -1.1,735 L-0.8,725.5 Z"/>
<path d="M9.3,725.5 C10,732 8.2,741.4 4.2,741.4 C1.6,741.4 1,738.5 1.1,735 L0.8,725.5 Z"/>
<path d="M-9.6,721 C-10.2,714 -8,710.2 -3.5,710.2 H3.5 C8,710.2 10.2,714 9.6,721 C9.4,723.5 8,725 5.5,725 L1.5,725 L0,722.5 L-1.5,725 L-5.5,725 C-8,725 -9.4,723.5 -9.6,721 Z"/>
<path d="M-5.6,713.2 C-7.6,717 -6.6,721.5 -1.6,724.6 M5.6,713.2 C7.6,717 6.6,721.5 1.6,724.6" fill="none"/>
<circle cx="0" cy="704.9" r="4.9"/>
</g>
</svg></body></html>
